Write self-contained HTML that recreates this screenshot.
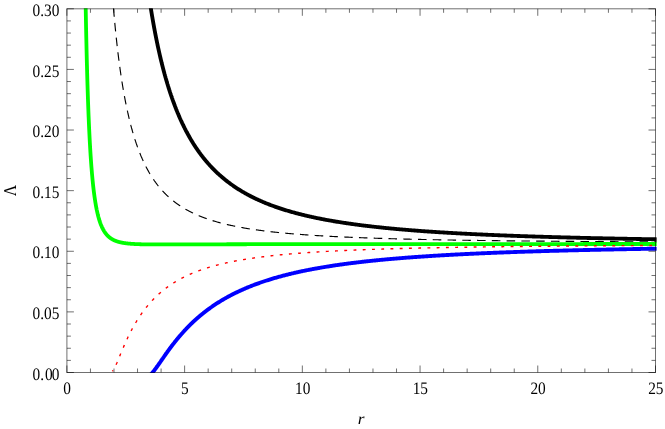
<!DOCTYPE html>
<html><head><meta charset="utf-8"><title>plot</title>
<style>
html,body{margin:0;padding:0;background:#fff;}
body{width:665px;height:429px;overflow:hidden;}
svg{display:block;will-change:transform;}
text{font-family:"Liberation Serif",serif;fill:#000;text-rendering:geometricPrecision;}
</style></head><body>
<svg width="665" height="429" viewBox="0 0 665 429">
<defs><clipPath id="clip"><rect x="66.90" y="8.30" width="589.80" height="364.70"/></clipPath></defs>
<g clip-path="url(#clip)" fill="none" stroke-linejoin="round">
<path d="M141.79 -62.87 L141.90 -61.77 L142.01 -60.68 L142.13 -59.59 L142.24 -58.51 L142.35 -57.43 L142.46 -56.36 L142.57 -55.30 L142.69 -54.25 L142.80 -53.20 L142.91 -52.15 L143.02 -51.12 L143.13 -50.09 L143.25 -49.07 L143.36 -48.05 L143.47 -47.04 L143.58 -46.03 L143.69 -45.03 L143.81 -44.04 L143.92 -43.05 L144.03 -42.07 L144.14 -41.10 L144.25 -40.13 L144.37 -39.16 L144.48 -38.20 L144.59 -37.25 L144.70 -36.30 L144.81 -35.36 L144.93 -34.43 L145.04 -33.49 L145.15 -32.57 L145.26 -31.65 L145.37 -30.73 L145.48 -29.82 L145.60 -28.92 L145.71 -28.02 L145.82 -27.13 L145.93 -26.24 L146.04 -25.35 L146.16 -24.47 L146.27 -23.60 L146.38 -22.73 L146.49 -21.86 L146.60 -21.00 L146.72 -20.15 L146.83 -19.30 L146.94 -18.45 L147.05 -17.61 L147.16 -16.78 L147.28 -15.94 L147.39 -15.12 L147.50 -14.29 L147.61 -13.48 L147.72 -12.66 L147.84 -11.85 L147.95 -11.05 L148.06 -10.25 L148.17 -9.45 L148.28 -8.66 L148.39 -7.87 L148.51 -7.09 L148.62 -6.31 L148.73 -5.53 L148.84 -4.76 L148.95 -3.99 L149.07 -3.23 L149.18 -2.47 L149.29 -1.71 L149.40 -0.96 L149.51 -0.21 L149.63 0.53 L149.74 1.27 L149.85 2.00 L149.96 2.74 L150.07 3.47 L150.19 4.19 L150.30 4.91 L150.41 5.63 L150.52 6.34 L150.63 7.05 L150.75 7.76 L150.86 8.46 L150.97 9.16 L151.08 9.86 L151.19 10.55 L151.30 11.24 L151.42 11.92 L151.53 12.61 L151.64 13.28 L151.75 13.96 L151.86 14.63 L151.98 15.30 L152.09 15.97 L152.20 16.63 L152.31 17.29 L152.42 17.94 L152.54 18.60 L152.65 19.25 L152.76 19.89 L152.87 20.53 L152.98 21.17 L153.10 21.81 L153.21 22.45 L153.32 23.08 L153.43 23.70 L153.54 24.33 L153.66 24.95 L153.77 25.57 L153.88 26.19 L153.99 26.80 L154.10 27.41 L154.22 28.02 L154.33 28.62 L154.44 29.22 L154.55 29.82 L154.66 30.42 L154.77 31.01 L154.89 31.60 L155.00 32.19 L155.11 32.77 L155.22 33.36 L155.33 33.94 L155.45 34.51 L155.56 35.09 L155.67 35.66 L155.78 36.23 L155.89 36.79 L156.01 37.36 L156.12 37.92 L156.23 38.48 L156.34 39.03 L156.45 39.59 L156.57 40.14 L156.68 40.69 L156.79 41.24 L156.90 41.78 L157.01 42.32 L157.13 42.86 L157.24 43.40 L157.35 43.93 L157.46 44.46 L157.57 44.99 L157.68 45.52 L157.80 46.05 L157.91 46.57 L158.02 47.09 L158.13 47.61 L158.24 48.12 L158.36 48.64 L158.47 49.15 L158.58 49.66 L158.69 50.17 L158.80 50.67 L158.92 51.17 L159.03 51.67 L159.14 52.17 L159.25 52.67 L159.36 53.16 L159.48 53.65 L159.59 54.15 L159.70 54.63 L159.81 55.12 L159.92 55.60 L160.04 56.08 L160.15 56.56 L160.26 57.04 L160.37 57.52 L160.48 57.99 L160.59 58.46 L160.71 58.93 L160.82 59.40 L160.93 59.87 L161.04 60.33 L161.15 60.79 L161.27 61.25 L161.38 61.71 L161.49 62.17 L161.60 62.62 L161.71 63.08 L161.83 63.53 L161.94 63.98 L162.05 64.42 L162.16 64.87 L162.27 65.31 L162.39 65.75 L162.50 66.19 L162.61 66.63 L162.72 67.07 L162.83 67.50 L162.95 67.94 L163.06 68.37 L163.17 68.80 L163.28 69.23 L163.39 69.65 L163.51 70.08 L163.62 70.50 L163.73 70.92 L163.84 71.34 L163.95 71.76 L164.06 72.17 L164.18 72.59 L164.29 73.00 L164.40 73.41 L164.51 73.82 L164.62 74.23 L164.74 74.64 L164.85 75.04 L164.96 75.45 L165.07 75.85 L165.18 76.25 L165.30 76.65 L165.41 77.04 L165.52 77.44 L165.63 77.83 L165.74 78.23 L165.86 78.62 L165.97 79.01 L166.08 79.40 L166.19 79.78 L166.30 80.17 L166.42 80.55 L166.53 80.93 L166.64 81.31 L166.75 81.69 L166.86 82.07 L166.97 82.45 L167.09 82.82 L167.20 83.20 L167.31 83.57 L167.42 83.94 L167.53 84.31 L167.65 84.68 L167.76 85.05 L167.87 85.41 L167.98 85.78 L168.09 86.14 L168.21 86.50 L168.32 86.86 L168.43 87.22 L168.54 87.58 L168.65 87.93 L168.77 88.29 L168.88 88.64 L168.99 88.99 L169.10 89.34 L169.21 89.69 L169.33 90.04 L169.44 90.39 L169.55 90.74 L169.66 91.08 L169.77 91.42 L169.88 91.77 L170.00 92.11 L170.11 92.45 L170.22 92.79 L170.33 93.12 L170.44 93.46 L170.56 93.79 L170.67 94.13 L170.78 94.46 L170.89 94.79 L171.00 95.12 L171.12 95.45 L171.23 95.78 L171.34 96.11 L171.45 96.43 L171.56 96.76 L171.68 97.08 L171.79 97.40 L171.90 97.72 L172.01 98.04 L172.12 98.36 L172.24 98.68 L172.35 99.00 L172.46 99.31 L172.57 99.63 L172.68 99.94 L172.79 100.25 L172.91 100.56 L173.02 100.87 L173.13 101.18 L173.24 101.49 L173.35 101.80 L173.47 102.10 L173.58 102.41 L173.69 102.71 L173.80 103.02 L173.91 103.32 L174.03 103.62 L174.14 103.92 L174.25 104.22 L174.36 104.51 L174.47 104.81 L174.59 105.11 L174.70 105.40 L174.81 105.70 L174.92 105.99 L175.03 106.28 L175.15 106.57 L175.26 106.86 L175.37 107.15 L175.48 107.44 L175.59 107.72 L175.71 108.01 L175.82 108.30 L175.93 108.58 L176.04 108.86 L176.15 109.15 L176.26 109.43 L176.38 109.71 L176.49 109.99 L176.60 110.26 L176.71 110.54 L176.82 110.82 L176.94 111.10 L177.05 111.37 L177.16 111.64 L177.27 111.92 L177.38 112.19 L177.50 112.46 L177.61 112.73 L177.72 113.00 L177.83 113.27 L177.94 113.54 L178.06 113.80 L178.17 114.07 L178.28 114.34 L178.39 114.60 L178.50 114.86 L178.62 115.13 L178.73 115.39 L178.84 115.65 L178.95 115.91 L179.06 116.17 L179.17 116.43 L179.29 116.69 L179.40 116.94 L179.51 117.20 L179.62 117.45 L179.73 117.71 L179.85 117.96 L179.96 118.22 L180.07 118.47 L180.18 118.72 L180.29 118.97 L180.41 119.22 L180.52 119.47 L180.63 119.72 L180.74 119.96 L180.85 120.21 L180.97 120.46 L181.08 120.70 L181.19 120.95 L181.30 121.19 L181.41 121.43 L181.53 121.67 L181.64 121.92 L181.75 122.16 L181.86 122.40 L181.97 122.63 L182.08 122.87 L182.20 123.11 L182.31 123.35 L182.42 123.58 L182.53 123.82 L182.64 124.05 L182.76 124.29 L182.87 124.52 L182.98 124.75 L183.09 124.99 L183.20 125.22 L183.32 125.45 L183.43 125.68 L183.54 125.91 L183.65 126.14 L183.76 126.36 L183.88 126.59 L183.99 126.82 L184.10 127.04 L184.21 127.27 L184.32 127.49 L184.44 127.72 L184.55 127.94 L184.66 128.16 L184.77 128.38 L184.88 128.60 L185.00 128.82 L185.11 129.04 L185.22 129.26 L185.33 129.48 L185.44 129.70 L185.55 129.92 L185.67 130.13 L185.78 130.35 L185.89 130.56 L186.00 130.78 L186.11 130.99 L186.23 131.20 L186.34 131.42 L186.45 131.63 L186.56 131.84 L186.67 132.05 L186.79 132.26 L186.90 132.47 L187.01 132.68 L187.12 132.89 L187.23 133.10 L187.35 133.30 L187.46 133.51 L187.57 133.72 L187.68 133.92 L187.79 134.13 L187.91 134.33 L188.02 134.53 L188.13 134.74 L188.24 134.94 L188.35 135.14 L188.46 135.34 L188.58 135.54 L188.69 135.74 L188.80 135.94 L188.91 136.14 L189.02 136.34 L189.14 136.54 L189.25 136.74 L189.36 136.93 L189.47 137.13 L189.58 137.32 L189.70 137.52 L189.81 137.71 L189.92 137.91 L190.03 138.10 L190.14 138.29 L190.26 138.49 L190.37 138.68 L190.48 138.87 L190.59 139.06 L190.70 139.25 L190.82 139.44 L190.93 139.63 L191.04 139.82 L191.15 140.01 L191.26 140.19 L191.37 140.38 L191.49 140.57 L191.60 140.75 L191.71 140.94 L191.82 141.12 L191.93 141.31 L192.05 141.49 L192.16 141.67 L192.27 141.86 L192.38 142.04 L192.49 142.22 L192.61 142.40 L192.72 142.58 L192.83 142.76 L192.94 142.94 L193.05 143.12 L193.17 143.30 L193.28 143.48 L193.39 143.66 L193.50 143.84 L193.61 144.01 L193.73 144.19 L193.84 144.37 L193.95 144.54 L194.06 144.72 L194.17 144.89 L194.29 145.07 L194.40 145.24 L194.51 145.41 L194.62 145.59 L194.73 145.76 L194.84 145.93 L194.96 146.10 L195.07 146.27 L195.18 146.44 L195.29 146.61 L195.40 146.78 L195.52 146.95 L195.63 147.12 L195.74 147.29 L195.85 147.45 L195.96 147.62 L196.08 147.79 L196.19 147.95 L196.30 148.12 L196.41 148.29 L196.52 148.45 L196.64 148.62 L196.75 148.78 L196.86 148.94 L196.97 149.11 L197.08 149.27 L197.20 149.43 L197.31 149.59 L197.42 149.76 L197.53 149.92 L197.64 150.08 L197.75 150.24 L197.87 150.40 L197.98 150.56 L198.09 150.72 L198.20 150.88 L198.31 151.03 L198.43 151.19 L198.54 151.35 L198.65 151.51 L198.76 151.66 L198.87 151.82 L198.99 151.97 L199.10 152.13 L199.21 152.28 L199.32 152.44 L199.43 152.59 L199.55 152.75 L199.66 152.90 L199.77 153.05 L199.88 153.21 L199.99 153.36 L200.11 153.51 L200.22 153.66 L200.33 153.81 L200.44 153.96 L200.55 154.11 L200.66 154.26 L200.78 154.41 L200.89 154.56 L201.00 154.71 L201.11 154.86 L201.22 155.01 L201.34 155.15 L201.45 155.30 L201.56 155.45 L201.67 155.60 L201.78 155.74 L201.90 155.89 L202.01 156.03 L202.12 156.18 L202.23 156.32 L202.34 156.47 L202.46 156.61 L202.57 156.75 L202.68 156.90 L202.79 157.04 L202.90 157.18 L203.02 157.32 L203.13 157.47 L203.24 157.61 L203.35 157.75 L203.46 157.89 L203.57 158.03 L203.69 158.17 L203.80 158.31 L203.91 158.45 L204.02 158.59 L204.13 158.73 L204.25 158.86 L204.36 159.00 L204.47 159.14 L204.58 159.28 L204.69 159.41 L204.81 159.55 L204.92 159.69 L205.03 159.82 L205.14 159.96 L205.25 160.09 L205.37 160.23 L205.48 160.36 L205.59 160.50 L205.70 160.63 L205.81 160.76 L205.93 160.90 L206.04 161.03 L206.15 161.16 L206.26 161.30 L206.37 161.43 L206.49 161.56 L206.60 161.69 L206.71 161.82 L206.82 161.95 L206.93 162.08 L207.04 162.21 L207.16 162.34 L207.27 162.47 L207.38 162.60 L207.49 162.73 L207.60 162.86 L207.72 162.99 L207.83 163.11 L207.94 163.24 L208.05 163.37 L208.16 163.50 L208.91 164.34 L209.66 165.17 L210.41 165.98 L211.16 166.79 L211.91 167.58 L212.66 168.35 L213.41 169.12 L214.16 169.87 L214.91 170.62 L215.66 171.35 L216.40 172.07 L217.15 172.78 L217.90 173.48 L218.65 174.17 L219.40 174.85 L220.15 175.52 L220.90 176.17 L221.65 176.82 L222.40 177.46 L223.15 178.09 L223.90 178.72 L224.65 179.33 L225.39 179.93 L226.14 180.53 L226.89 181.12 L227.64 181.70 L228.39 182.27 L229.14 182.83 L229.89 183.39 L230.64 183.94 L231.39 184.48 L232.14 185.01 L232.89 185.54 L233.64 186.06 L234.38 186.57 L235.13 187.07 L235.88 187.57 L236.63 188.06 L237.38 188.55 L238.13 189.03 L238.88 189.50 L239.63 189.97 L240.38 190.43 L241.13 190.89 L241.88 191.33 L242.63 191.78 L243.37 192.22 L244.12 192.65 L244.87 193.08 L245.62 193.50 L246.37 193.91 L247.12 194.33 L247.87 194.73 L248.62 195.13 L249.37 195.53 L250.12 195.92 L250.87 196.31 L251.62 196.69 L252.36 197.07 L253.11 197.44 L253.86 197.81 L254.61 198.17 L255.36 198.53 L256.11 198.89 L256.86 199.24 L257.61 199.59 L258.36 199.93 L259.11 200.27 L259.86 200.61 L260.61 200.94 L261.35 201.27 L262.10 201.59 L262.85 201.91 L263.60 202.23 L264.35 202.54 L265.10 202.85 L265.85 203.16 L266.60 203.46 L267.35 203.76 L268.10 204.06 L268.85 204.35 L269.60 204.64 L270.34 204.93 L271.09 205.21 L271.84 205.49 L272.59 205.77 L273.34 206.04 L274.09 206.31 L274.84 206.58 L275.59 206.85 L276.34 207.11 L277.09 207.37 L277.84 207.63 L278.59 207.88 L279.33 208.13 L280.08 208.38 L280.83 208.63 L281.58 208.87 L282.33 209.12 L283.08 209.36 L283.83 209.59 L284.58 209.83 L285.33 210.06 L286.08 210.29 L286.83 210.51 L287.58 210.74 L288.32 210.96 L289.07 211.18 L289.82 211.40 L290.57 211.62 L291.32 211.83 L292.07 212.04 L292.82 212.25 L293.57 212.46 L294.32 212.67 L295.07 212.87 L295.82 213.07 L296.57 213.27 L297.31 213.47 L298.06 213.66 L298.81 213.86 L299.56 214.05 L300.31 214.24 L301.06 214.43 L301.81 214.62 L302.56 214.80 L303.31 214.98 L304.06 215.17 L304.81 215.35 L305.56 215.52 L306.30 215.70 L307.05 215.88 L307.80 216.05 L308.55 216.22 L309.30 216.39 L310.05 216.56 L310.80 216.73 L311.55 216.89 L312.30 217.06 L313.05 217.22 L313.80 217.38 L314.55 217.54 L315.29 217.70 L316.04 217.85 L316.79 218.01 L317.54 218.16 L318.29 218.31 L319.04 218.47 L319.79 218.62 L320.54 218.76 L321.29 218.91 L322.04 219.06 L322.79 219.20 L323.54 219.35 L324.28 219.49 L325.03 219.63 L325.78 219.77 L326.53 219.91 L327.28 220.04 L328.03 220.18 L328.78 220.32 L329.53 220.45 L330.28 220.58 L331.03 220.71 L331.78 220.85 L332.53 220.97 L333.27 221.10 L334.02 221.23 L334.77 221.36 L335.52 221.48 L336.27 221.61 L337.02 221.73 L337.77 221.85 L338.52 221.97 L339.27 222.09 L340.02 222.21 L340.77 222.33 L341.52 222.45 L342.26 222.56 L343.01 222.68 L343.76 222.79 L344.51 222.91 L345.26 223.02 L346.01 223.13 L346.76 223.24 L347.51 223.35 L348.26 223.46 L349.01 223.57 L349.76 223.68 L350.50 223.78 L351.25 223.89 L352.00 223.99 L352.75 224.10 L353.50 224.20 L354.25 224.30 L355.00 224.41 L355.75 224.51 L356.50 224.61 L357.25 224.71 L358.00 224.80 L358.75 224.90 L359.49 225.00 L360.24 225.09 L360.99 225.19 L361.74 225.29 L362.49 225.38 L363.24 225.47 L363.99 225.57 L364.74 225.66 L365.49 225.75 L366.24 225.84 L366.99 225.93 L367.74 226.02 L368.48 226.11 L369.23 226.20 L369.98 226.28 L370.73 226.37 L371.48 226.46 L372.23 226.54 L372.98 226.63 L373.73 226.71 L374.48 226.79 L375.23 226.88 L375.98 226.96 L376.73 227.04 L377.47 227.12 L378.22 227.20 L378.97 227.28 L379.72 227.36 L380.47 227.44 L381.22 227.52 L381.97 227.60 L382.72 227.68 L383.47 227.75 L384.22 227.83 L384.97 227.90 L385.72 227.98 L386.46 228.05 L387.21 228.13 L387.96 228.20 L388.71 228.27 L389.46 228.35 L390.21 228.42 L390.96 228.49 L391.71 228.56 L392.46 228.63 L393.21 228.70 L393.96 228.77 L394.71 228.84 L395.45 228.91 L396.20 228.98 L396.95 229.05 L397.70 229.11 L398.45 229.18 L399.20 229.25 L399.95 229.31 L400.70 229.38 L401.45 229.44 L402.20 229.51 L402.95 229.57 L403.70 229.64 L404.44 229.70 L405.19 229.76 L405.94 229.82 L406.69 229.89 L407.44 229.95 L408.19 230.01 L408.94 230.07 L409.69 230.13 L410.44 230.19 L411.19 230.25 L411.94 230.31 L412.69 230.37 L413.43 230.43 L414.18 230.49 L414.93 230.54 L415.68 230.60 L416.43 230.66 L417.18 230.71 L417.93 230.77 L418.68 230.83 L419.43 230.88 L420.18 230.94 L420.93 230.99 L421.68 231.05 L422.42 231.10 L423.17 231.16 L423.92 231.21 L424.67 231.26 L425.42 231.32 L426.17 231.37 L426.92 231.42 L427.67 231.47 L428.42 231.52 L429.17 231.58 L429.92 231.63 L430.67 231.68 L431.41 231.73 L432.16 231.78 L432.91 231.83 L433.66 231.88 L434.41 231.93 L435.16 231.97 L435.91 232.02 L436.66 232.07 L437.41 232.12 L438.16 232.17 L438.91 232.21 L439.66 232.26 L440.40 232.31 L441.15 232.35 L441.90 232.40 L442.65 232.45 L443.40 232.49 L444.15 232.54 L444.90 232.58 L445.65 232.63 L446.40 232.67 L447.15 232.72 L447.90 232.76 L448.65 232.81 L449.39 232.85 L450.14 232.89 L450.89 232.94 L451.64 232.98 L452.39 233.02 L453.14 233.06 L453.89 233.11 L454.64 233.15 L455.39 233.19 L456.14 233.23 L456.89 233.27 L457.64 233.31 L458.38 233.35 L459.13 233.39 L459.88 233.43 L460.63 233.47 L461.38 233.51 L462.13 233.55 L462.88 233.59 L463.63 233.63 L464.38 233.67 L465.13 233.71 L465.88 233.75 L466.63 233.79 L467.37 233.82 L468.12 233.86 L468.87 233.90 L469.62 233.94 L470.37 233.97 L471.12 234.01 L471.87 234.05 L472.62 234.08 L473.37 234.12 L474.12 234.16 L474.87 234.19 L475.62 234.23 L476.36 234.26 L477.11 234.30 L477.86 234.33 L478.61 234.37 L479.36 234.40 L480.11 234.44 L480.86 234.47 L481.61 234.51 L482.36 234.54 L483.11 234.58 L483.86 234.61 L484.61 234.64 L485.35 234.68 L486.10 234.71 L486.85 234.74 L487.60 234.77 L488.35 234.81 L489.10 234.84 L489.85 234.87 L490.60 234.90 L491.35 234.94 L492.10 234.97 L492.85 235.00 L493.60 235.03 L494.34 235.06 L495.09 235.09 L495.84 235.12 L496.59 235.16 L497.34 235.19 L498.09 235.22 L498.84 235.25 L499.59 235.28 L500.34 235.31 L501.09 235.34 L501.84 235.37 L502.59 235.40 L503.33 235.43 L504.08 235.45 L504.83 235.48 L505.58 235.51 L506.33 235.54 L507.08 235.57 L507.83 235.60 L508.58 235.63 L509.33 235.66 L510.08 235.68 L510.83 235.71 L511.58 235.74 L512.32 235.77 L513.07 235.79 L513.82 235.82 L514.57 235.85 L515.32 235.88 L516.07 235.90 L516.82 235.93 L517.57 235.96 L518.32 235.98 L519.07 236.01 L519.82 236.04 L520.56 236.06 L521.31 236.09 L522.06 236.11 L522.81 236.14 L523.56 236.17 L524.31 236.19 L525.06 236.22 L525.81 236.24 L526.56 236.27 L527.31 236.29 L528.06 236.32 L528.81 236.34 L529.55 236.37 L530.30 236.39 L531.05 236.42 L531.80 236.44 L532.55 236.46 L533.30 236.49 L534.05 236.51 L534.80 236.54 L535.55 236.56 L536.30 236.58 L537.05 236.61 L537.80 236.63 L538.54 236.65 L539.29 236.68 L540.04 236.70 L540.79 236.72 L541.54 236.75 L542.29 236.77 L543.04 236.79 L543.79 236.81 L544.54 236.84 L545.29 236.86 L546.04 236.88 L546.79 236.90 L547.53 236.92 L548.28 236.95 L549.03 236.97 L549.78 236.99 L550.53 237.01 L551.28 237.03 L552.03 237.05 L552.78 237.08 L553.53 237.10 L554.28 237.12 L555.03 237.14 L555.78 237.16 L556.52 237.18 L557.27 237.20 L558.02 237.22 L558.77 237.24 L559.52 237.26 L560.27 237.28 L561.02 237.30 L561.77 237.32 L562.52 237.34 L563.27 237.36 L564.02 237.38 L564.77 237.40 L565.51 237.42 L566.26 237.44 L567.01 237.46 L567.76 237.48 L568.51 237.50 L569.26 237.52 L570.01 237.54 L570.76 237.56 L571.51 237.58 L572.26 237.60 L573.01 237.62 L573.76 237.64 L574.50 237.65 L575.25 237.67 L576.00 237.69 L576.75 237.71 L577.50 237.73 L578.25 237.75 L579.00 237.76 L579.75 237.78 L580.50 237.80 L581.25 237.82 L582.00 237.84 L582.75 237.85 L583.49 237.87 L584.24 237.89 L584.99 237.91 L585.74 237.93 L586.49 237.94 L587.24 237.96 L587.99 237.98 L588.74 237.99 L589.49 238.01 L590.24 238.03 L590.99 238.05 L591.74 238.06 L592.48 238.08 L593.23 238.10 L593.98 238.11 L594.73 238.13 L595.48 238.15 L596.23 238.16 L596.98 238.18 L597.73 238.20 L598.48 238.21 L599.23 238.23 L599.98 238.24 L600.73 238.26 L601.47 238.28 L602.22 238.29 L602.97 238.31 L603.72 238.32 L604.47 238.34 L605.22 238.36 L605.97 238.37 L606.72 238.39 L607.47 238.40 L608.22 238.42 L608.97 238.43 L609.72 238.45 L610.46 238.46 L611.21 238.48 L611.96 238.49 L612.71 238.51 L613.46 238.52 L614.21 238.54 L614.96 238.55 L615.71 238.57 L616.46 238.58 L617.21 238.60 L617.96 238.61 L618.71 238.63 L619.45 238.64 L620.20 238.66 L620.95 238.67 L621.70 238.68 L622.45 238.70 L623.20 238.71 L623.95 238.73 L624.70 238.74 L625.45 238.76 L626.20 238.77 L626.95 238.78 L627.70 238.80 L628.44 238.81 L629.19 238.83 L629.94 238.84 L630.69 238.85 L631.44 238.87 L632.19 238.88 L632.94 238.89 L633.69 238.91 L634.44 238.92 L635.19 238.93 L635.94 238.95 L636.69 238.96 L637.43 238.97 L638.18 238.99 L638.93 239.00 L639.68 239.01 L640.43 239.03 L641.18 239.04 L641.93 239.05 L642.68 239.06 L643.43 239.08 L644.18 239.09 L644.93 239.10 L645.68 239.11 L646.42 239.13 L647.17 239.14 L647.92 239.15 L648.67 239.16 L649.42 239.18 L650.17 239.19 L650.92 239.20 L651.67 239.21 L652.42 239.23 L653.17 239.24 L653.92 239.25 L654.67 239.26 L655.41 239.27 L656.16 239.29 L656.91 239.30" stroke="#000000" stroke-width="3.85"/>
<path d="M108.66 -63.31 L108.77 -61.23 L108.88 -59.17 L109.00 -57.14 L109.11 -55.13 L109.22 -53.15 L109.33 -51.18 L109.44 -49.24 L109.56 -47.32 L109.67 -45.43 L109.78 -43.55 L109.89 -41.70 L110.00 -39.86 L110.12 -38.05 L110.23 -36.26 L110.34 -34.48 L110.45 -32.73 L110.56 -30.99 L110.68 -29.28 L110.79 -27.58 L110.90 -25.90 L111.01 -24.24 L111.12 -22.59 L111.23 -20.97 L111.35 -19.36 L111.46 -17.76 L111.57 -16.19 L111.68 -14.63 L111.79 -13.08 L111.91 -11.56 L112.02 -10.04 L112.13 -8.55 L112.24 -7.06 L112.35 -5.60 L112.47 -4.14 L112.58 -2.71 L112.69 -1.28 L112.80 0.13 L112.91 1.52 L113.03 2.90 L113.14 4.27 L113.25 5.63 L113.36 6.97 L113.47 8.30 L113.59 9.62 L113.70 10.92 L113.81 12.21 L113.92 13.49 L114.03 14.76 L114.15 16.02 L114.26 17.26 L114.37 18.49 L114.48 19.71 L114.59 20.92 L114.70 22.12 L114.82 23.31 L114.93 24.49 L115.04 25.65 L115.15 26.81 L115.26 27.95 L115.38 29.09 L115.49 30.21 L115.60 31.33 L115.71 32.44 L115.82 33.53 L115.94 34.62 L116.05 35.69 L116.16 36.76 L116.27 37.82 L116.38 38.87 L116.50 39.91 L116.61 40.94 L116.72 41.96 L116.83 42.98 L116.94 43.98 L117.06 44.98 L117.17 45.97 L117.28 46.95 L117.39 47.92 L117.50 48.88 L117.61 49.84 L117.73 50.79 L117.84 51.73 L117.95 52.66 L118.06 53.59 L118.17 54.50 L118.29 55.41 L118.40 56.32 L118.51 57.21 L118.62 58.10 L118.73 58.98 L118.85 59.86 L118.96 60.73 L119.07 61.59 L119.18 62.44 L119.29 63.29 L119.41 64.13 L119.52 64.97 L119.63 65.79 L119.74 66.62 L119.85 67.43 L119.97 68.24 L120.08 69.04 L120.19 69.84 L120.30 70.63 L120.41 71.42 L120.52 72.20 L120.64 72.97 L120.75 73.74 L120.86 74.50 L120.97 75.26 L121.08 76.01 L121.20 76.75 L121.31 77.49 L121.42 78.23 L121.53 78.96 L121.64 79.68 L121.76 80.40 L121.87 81.11 L121.98 81.82 L122.09 82.53 L122.20 83.22 L122.32 83.92 L122.43 84.61 L122.54 85.29 L122.65 85.97 L122.76 86.64 L122.88 87.31 L122.99 87.98 L123.10 88.64 L123.21 89.29 L123.32 89.95 L123.44 90.59 L123.55 91.23 L123.66 91.87 L123.77 92.51 L123.88 93.14 L123.99 93.76 L124.11 94.38 L124.22 95.00 L124.33 95.61 L124.44 96.22 L124.55 96.82 L124.67 97.42 L124.78 98.02 L124.89 98.61 L125.00 99.20 L125.11 99.79 L125.23 100.37 L125.34 100.94 L125.45 101.52 L125.56 102.09 L125.67 102.65 L125.79 103.22 L125.90 103.77 L126.01 104.33 L126.12 104.88 L126.23 105.43 L126.35 105.97 L126.46 106.52 L126.57 107.05 L126.68 107.59 L126.79 108.12 L126.90 108.65 L127.02 109.17 L127.13 109.69 L127.24 110.21 L127.35 110.72 L127.46 111.24 L127.58 111.74 L127.69 112.25 L127.80 112.75 L127.91 113.25 L128.02 113.75 L128.14 114.24 L128.25 114.73 L128.36 115.22 L128.47 115.70 L128.58 116.18 L128.70 116.66 L128.81 117.14 L128.92 117.61 L129.03 118.08 L129.14 118.55 L129.26 119.01 L129.37 119.47 L129.48 119.93 L129.59 120.39 L129.70 120.84 L129.81 121.29 L129.93 121.74 L130.04 122.18 L130.15 122.63 L130.26 123.07 L130.37 123.51 L130.49 123.94 L130.60 124.37 L130.71 124.80 L130.82 125.23 L130.93 125.66 L131.05 126.08 L131.16 126.50 L131.27 126.92 L131.38 127.34 L131.49 127.75 L131.61 128.16 L131.72 128.57 L131.83 128.98 L131.94 129.38 L132.05 129.78 L132.17 130.18 L132.28 130.58 L132.39 130.98 L132.50 131.37 L132.61 131.76 L132.73 132.15 L132.84 132.54 L132.95 132.92 L133.06 133.30 L133.17 133.68 L133.28 134.06 L133.40 134.44 L133.51 134.81 L133.62 135.19 L133.73 135.56 L133.84 135.93 L133.96 136.29 L134.07 136.66 L134.18 137.02 L134.29 137.38 L134.40 137.74 L134.52 138.10 L134.63 138.45 L134.74 138.80 L134.85 139.15 L134.96 139.50 L135.08 139.85 L135.19 140.20 L135.30 140.54 L135.41 140.88 L135.52 141.22 L135.64 141.56 L135.75 141.90 L135.86 142.23 L135.97 142.57 L136.08 142.90 L136.19 143.23 L136.31 143.56 L136.42 143.88 L136.53 144.21 L136.64 144.53 L136.75 144.85 L136.87 145.17 L136.98 145.49 L137.09 145.81 L137.20 146.12 L137.31 146.44 L137.43 146.75 L137.54 147.06 L137.65 147.37 L137.76 147.68 L137.87 147.98 L137.99 148.29 L138.10 148.59 L138.21 148.89 L138.32 149.19 L138.43 149.49 L138.55 149.79 L138.66 150.08 L138.77 150.38 L138.88 150.67 L138.99 150.96 L139.10 151.25 L139.22 151.54 L139.33 151.83 L139.44 152.11 L139.55 152.39 L139.66 152.68 L139.78 152.96 L139.89 153.24 L140.00 153.52 L140.11 153.80 L140.22 154.07 L140.34 154.35 L140.45 154.62 L140.56 154.89 L140.67 155.16 L140.78 155.43 L140.90 155.70 L141.01 155.97 L141.12 156.23 L141.23 156.50 L141.34 156.76 L141.46 157.02 L141.57 157.28 L141.68 157.54 L141.79 157.80 L141.90 158.06 L142.01 158.32 L142.13 158.57 L142.24 158.82 L142.35 159.08 L142.46 159.33 L142.57 159.58 L142.69 159.83 L142.80 160.08 L142.91 160.32 L143.02 160.57 L143.13 160.81 L143.25 161.06 L143.36 161.30 L143.47 161.54 L143.58 161.78 L143.69 162.02 L143.81 162.26 L143.92 162.49 L144.03 162.73 L144.14 162.97 L144.25 163.20 L144.37 163.43 L144.48 163.66 L144.59 163.89 L144.70 164.12 L144.81 164.35 L144.93 164.58 L145.04 164.81 L145.15 165.03 L145.26 165.26 L145.37 165.48 L145.48 165.70 L145.60 165.92 L145.71 166.15 L145.82 166.36 L145.93 166.58 L146.04 166.80 L146.16 167.02 L146.27 167.23 L146.38 167.45 L146.49 167.66 L146.60 167.88 L146.72 168.09 L146.83 168.30 L146.94 168.51 L147.05 168.72 L147.16 168.93 L147.28 169.14 L147.39 169.34 L147.50 169.55 L147.61 169.75 L147.72 169.96 L147.84 170.16 L147.95 170.36 L148.06 170.57 L148.17 170.77 L148.28 170.97 L148.39 171.17 L148.51 171.36 L148.62 171.56 L148.73 171.76 L148.84 171.95 L148.95 172.15 L149.07 172.34 L149.18 172.54 L149.29 172.73 L149.40 172.92 L149.51 173.11 L149.63 173.30 L149.74 173.49 L149.85 173.68 L149.96 173.87 L150.07 174.05 L150.19 174.24 L150.30 174.43 L150.41 174.61 L150.52 174.79 L150.63 174.98 L150.75 175.16 L150.86 175.34 L150.97 175.52 L151.08 175.70 L151.19 175.88 L151.30 176.06 L151.42 176.24 L151.53 176.42 L151.64 176.59 L151.75 176.77 L151.86 176.94 L151.98 177.12 L152.09 177.29 L152.20 177.47 L152.31 177.64 L152.42 177.81 L152.54 177.98 L152.65 178.15 L152.76 178.32 L152.87 178.49 L152.98 178.66 L153.10 178.83 L153.21 178.99 L153.32 179.16 L153.43 179.33 L153.54 179.49 L153.66 179.66 L153.77 179.82 L153.88 179.98 L153.99 180.14 L154.10 180.31 L154.22 180.47 L154.33 180.63 L154.44 180.79 L154.55 180.95 L154.66 181.11 L154.77 181.26 L154.89 181.42 L155.00 181.58 L155.11 181.74 L155.22 181.89 L155.33 182.05 L155.45 182.20 L155.56 182.36 L155.67 182.51 L155.78 182.66 L155.89 182.81 L156.01 182.97 L156.12 183.12 L156.23 183.27 L156.34 183.42 L156.45 183.57 L156.57 183.71 L156.68 183.86 L156.79 184.01 L156.90 184.16 L157.01 184.30 L157.13 184.45 L157.24 184.60 L157.35 184.74 L157.46 184.88 L157.57 185.03 L157.68 185.17 L157.80 185.31 L157.91 185.46 L158.02 185.60 L158.13 185.74 L158.24 185.88 L158.36 186.02 L158.47 186.16 L158.58 186.30 L158.69 186.44 L158.80 186.58 L158.92 186.71 L159.03 186.85 L159.14 186.99 L159.25 187.12 L159.36 187.26 L159.48 187.39 L159.59 187.53 L159.70 187.66 L159.81 187.80 L159.92 187.93 L160.04 188.06 L160.15 188.19 L160.26 188.33 L160.37 188.46 L160.48 188.59 L160.59 188.72 L160.71 188.85 L160.82 188.98 L160.93 189.11 L161.04 189.23 L161.15 189.36 L161.27 189.49 L161.38 189.62 L161.49 189.74 L161.60 189.87 L161.71 189.99 L161.83 190.12 L161.94 190.24 L162.05 190.37 L162.16 190.49 L162.27 190.62 L162.39 190.74 L162.50 190.86 L162.61 190.98 L162.72 191.11 L162.83 191.23 L162.95 191.35 L163.06 191.47 L163.17 191.59 L163.28 191.71 L163.39 191.83 L163.51 191.95 L163.62 192.06 L163.73 192.18 L163.84 192.30 L163.95 192.42 L164.06 192.53 L164.18 192.65 L164.29 192.77 L164.40 192.88 L164.51 193.00 L164.62 193.11 L164.74 193.22 L164.85 193.34 L164.96 193.45 L165.07 193.57 L165.18 193.68 L165.30 193.79 L165.41 193.90 L165.52 194.01 L165.63 194.13 L165.74 194.24 L165.86 194.35 L165.97 194.46 L166.08 194.57 L166.19 194.68 L166.30 194.78 L166.42 194.89 L166.53 195.00 L166.64 195.11 L166.75 195.22 L166.86 195.32 L166.97 195.43 L167.09 195.54 L167.20 195.64 L167.31 195.75 L167.42 195.85 L167.53 195.96 L167.65 196.06 L167.76 196.17 L167.87 196.27 L167.98 196.38 L168.09 196.48 L168.21 196.58 L168.32 196.68 L168.43 196.79 L168.54 196.89 L168.65 196.99 L168.77 197.09 L168.88 197.19 L168.99 197.29 L169.10 197.39 L169.21 197.49 L169.33 197.59 L169.44 197.69 L169.55 197.79 L169.66 197.89 L169.77 197.99 L169.88 198.09 L170.00 198.18 L170.11 198.28 L170.22 198.38 L170.33 198.47 L170.44 198.57 L170.56 198.67 L170.67 198.76 L170.78 198.86 L170.89 198.95 L171.00 199.05 L171.12 199.14 L171.23 199.24 L171.34 199.33 L171.45 199.42 L171.56 199.52 L171.68 199.61 L171.79 199.70 L171.90 199.80 L172.01 199.89 L172.12 199.98 L172.24 200.07 L172.35 200.16 L172.46 200.25 L172.57 200.34 L172.68 200.43 L172.79 200.52 L172.91 200.61 L173.02 200.70 L173.13 200.79 L173.24 200.88 L173.35 200.97 L173.47 201.06 L173.58 201.15 L173.69 201.24 L173.80 201.32 L173.91 201.41 L174.03 201.50 L174.14 201.58 L174.25 201.67 L174.36 201.76 L174.47 201.84 L174.59 201.93 L174.70 202.01 L174.81 202.10 L174.92 202.18 L175.03 202.27 L175.15 202.35 L175.26 202.44 L175.37 202.52 L175.48 202.60 L175.59 202.69 L175.71 202.77 L175.82 202.85 L175.93 202.94 L176.04 203.02 L176.15 203.10 L176.26 203.18 L176.38 203.26 L176.49 203.35 L176.60 203.43 L176.71 203.51 L176.82 203.59 L176.94 203.67 L177.05 203.75 L177.16 203.83 L177.27 203.91 L177.38 203.99 L177.50 204.07 L177.61 204.14 L177.72 204.22 L177.83 204.30 L177.94 204.38 L178.06 204.46 L178.17 204.54 L178.28 204.61 L178.39 204.69 L178.50 204.77 L178.62 204.84 L178.73 204.92 L178.84 205.00 L178.95 205.07 L179.06 205.15 L179.17 205.22 L179.29 205.30 L179.40 205.37 L179.51 205.45 L179.62 205.52 L179.73 205.60 L179.85 205.67 L179.96 205.75 L180.07 205.82 L180.18 205.89 L180.29 205.97 L180.41 206.04 L180.52 206.11 L180.63 206.19 L180.74 206.26 L180.85 206.33 L180.97 206.40 L181.08 206.48 L181.19 206.55 L181.30 206.62 L181.41 206.69 L181.53 206.76 L181.64 206.83 L181.75 206.90 L181.86 206.97 L181.97 207.04 L182.08 207.11 L182.20 207.18 L182.31 207.25 L182.42 207.32 L182.53 207.39 L182.64 207.46 L182.76 207.53 L182.87 207.60 L182.98 207.67 L183.09 207.74 L183.20 207.80 L183.32 207.87 L183.43 207.94 L183.54 208.01 L183.65 208.07 L183.76 208.14 L183.88 208.21 L183.99 208.27 L184.10 208.34 L184.21 208.41 L184.32 208.47 L184.44 208.54 L184.55 208.60 L184.66 208.67 L184.77 208.74 L184.88 208.80 L185.00 208.87 L185.11 208.93 L185.22 209.00 L185.33 209.06 L185.44 209.12 L185.55 209.19 L185.67 209.25 L185.78 209.32 L185.89 209.38 L186.00 209.44 L186.11 209.51 L186.23 209.57 L186.34 209.63 L186.45 209.69 L186.56 209.76 L186.67 209.82 L186.79 209.88 L186.90 209.94 L187.01 210.00 L187.12 210.07 L187.23 210.13 L187.35 210.19 L187.46 210.25 L187.57 210.31 L187.68 210.37 L187.79 210.43 L187.91 210.49 L188.02 210.55 L188.13 210.61 L188.24 210.67 L188.35 210.73 L188.46 210.79 L188.58 210.85 L188.69 210.91 L188.80 210.97 L188.91 211.03 L189.02 211.09 L189.14 211.15 L189.25 211.21 L189.36 211.26 L189.47 211.32 L189.58 211.38 L189.70 211.44 L189.81 211.50 L189.92 211.55 L190.03 211.61 L190.14 211.67 L190.26 211.72 L190.37 211.78 L190.48 211.84 L190.59 211.89 L190.70 211.95 L190.82 212.01 L190.93 212.06 L191.04 212.12 L191.15 212.18 L191.26 212.23 L191.37 212.29 L191.49 212.34 L191.60 212.40 L191.71 212.45 L191.82 212.51 L191.93 212.56 L192.05 212.62 L192.16 212.67 L192.27 212.73 L192.38 212.78 L192.49 212.83 L192.61 212.89 L192.72 212.94 L192.83 213.00 L192.94 213.05 L193.05 213.10 L193.17 213.16 L193.28 213.21 L193.39 213.26 L193.50 213.31 L193.61 213.37 L193.73 213.42 L193.84 213.47 L193.95 213.52 L194.06 213.58 L194.17 213.63 L194.29 213.68 L194.40 213.73 L194.51 213.78 L194.62 213.83 L194.73 213.89 L194.84 213.94 L194.96 213.99 L195.07 214.04 L195.18 214.09 L195.29 214.14 L195.40 214.19 L195.52 214.24 L195.63 214.29 L195.74 214.34 L195.85 214.39 L195.96 214.44 L196.08 214.49 L196.19 214.54 L196.30 214.59 L196.41 214.64 L196.52 214.69 L196.64 214.74 L196.75 214.79 L196.86 214.84 L196.97 214.88 L197.08 214.93 L197.20 214.98 L197.31 215.03 L197.42 215.08 L197.53 215.13 L197.64 215.17 L197.75 215.22 L197.87 215.27 L197.98 215.32 L198.09 215.36 L198.20 215.41 L198.31 215.46 L198.43 215.51 L198.54 215.55 L198.65 215.60 L198.76 215.65 L198.87 215.69 L198.99 215.74 L199.10 215.79 L199.21 215.83 L199.32 215.88 L199.43 215.92 L199.55 215.97 L199.66 216.02 L199.77 216.06 L199.88 216.11 L199.99 216.15 L200.11 216.20 L200.22 216.24 L200.33 216.29 L200.44 216.33 L200.55 216.38 L200.66 216.42 L200.78 216.47 L200.89 216.51 L201.00 216.56 L201.11 216.60 L201.22 216.65 L201.34 216.69 L201.45 216.73 L201.56 216.78 L201.67 216.82 L201.78 216.87 L201.90 216.91 L202.01 216.95 L202.12 217.00 L202.23 217.04 L202.34 217.08 L202.46 217.13 L202.57 217.17 L202.68 217.21 L202.79 217.25 L202.90 217.30 L203.02 217.34 L203.13 217.38 L203.24 217.42 L203.35 217.47 L203.46 217.51 L203.57 217.55 L203.69 217.59 L203.80 217.63 L203.91 217.68 L204.02 217.72 L204.13 217.76 L204.25 217.80 L204.36 217.84 L204.47 217.88 L204.58 217.92 L204.69 217.96 L204.81 218.01 L204.92 218.05 L205.03 218.09 L205.14 218.13 L205.25 218.17 L205.37 218.21 L205.48 218.25 L205.59 218.29 L205.70 218.33 L205.81 218.37 L205.93 218.41 L206.04 218.45 L206.15 218.49 L206.26 218.53 L206.37 218.57 L206.49 218.61 L206.60 218.65 L206.71 218.69 L206.82 218.72 L206.93 218.76 L207.04 218.80 L207.16 218.84 L207.27 218.88 L207.38 218.92 L207.49 218.96 L207.60 219.00 L207.72 219.03 L207.83 219.07 L207.94 219.11 L208.05 219.15 L208.16 219.19 L208.91 219.44 L209.66 219.69 L210.41 219.93 L211.16 220.17 L211.91 220.41 L212.66 220.64 L213.41 220.87 L214.16 221.10 L214.91 221.32 L215.66 221.54 L216.40 221.76 L217.15 221.97 L217.90 222.18 L218.65 222.39 L219.40 222.59 L220.15 222.80 L220.90 222.99 L221.65 223.19 L222.40 223.38 L223.15 223.57 L223.90 223.76 L224.65 223.94 L225.39 224.12 L226.14 224.30 L226.89 224.48 L227.64 224.65 L228.39 224.83 L229.14 225.00 L229.89 225.16 L230.64 225.33 L231.39 225.49 L232.14 225.65 L232.89 225.81 L233.64 225.96 L234.38 226.12 L235.13 226.27 L235.88 226.42 L236.63 226.57 L237.38 226.72 L238.13 226.86 L238.88 227.00 L239.63 227.14 L240.38 227.28 L241.13 227.42 L241.88 227.55 L242.63 227.69 L243.37 227.82 L244.12 227.95 L244.87 228.08 L245.62 228.20 L246.37 228.33 L247.12 228.45 L247.87 228.58 L248.62 228.70 L249.37 228.81 L250.12 228.93 L250.87 229.05 L251.62 229.16 L252.36 229.28 L253.11 229.39 L253.86 229.50 L254.61 229.61 L255.36 229.72 L256.11 229.83 L256.86 229.93 L257.61 230.04 L258.36 230.14 L259.11 230.24 L259.86 230.34 L260.61 230.44 L261.35 230.54 L262.10 230.64 L262.85 230.73 L263.60 230.83 L264.35 230.92 L265.10 231.02 L265.85 231.11 L266.60 231.20 L267.35 231.29 L268.10 231.38 L268.85 231.47 L269.60 231.55 L270.34 231.64 L271.09 231.72 L271.84 231.81 L272.59 231.89 L273.34 231.97 L274.09 232.06 L274.84 232.14 L275.59 232.22 L276.34 232.30 L277.09 232.37 L277.84 232.45 L278.59 232.53 L279.33 232.60 L280.08 232.68 L280.83 232.75 L281.58 232.82 L282.33 232.90 L283.08 232.97 L283.83 233.04 L284.58 233.11 L285.33 233.18 L286.08 233.25 L286.83 233.32 L287.58 233.38 L288.32 233.45 L289.07 233.52 L289.82 233.58 L290.57 233.65 L291.32 233.71 L292.07 233.78 L292.82 233.84 L293.57 233.90 L294.32 233.96 L295.07 234.02 L295.82 234.08 L296.57 234.14 L297.31 234.20 L298.06 234.26 L298.81 234.32 L299.56 234.38 L300.31 234.43 L301.06 234.49 L301.81 234.55 L302.56 234.60 L303.31 234.66 L304.06 234.71 L304.81 234.77 L305.56 234.82 L306.30 234.87 L307.05 234.92 L307.80 234.98 L308.55 235.03 L309.30 235.08 L310.05 235.13 L310.80 235.18 L311.55 235.23 L312.30 235.28 L313.05 235.33 L313.80 235.37 L314.55 235.42 L315.29 235.47 L316.04 235.52 L316.79 235.56 L317.54 235.61 L318.29 235.66 L319.04 235.70 L319.79 235.75 L320.54 235.79 L321.29 235.83 L322.04 235.88 L322.79 235.92 L323.54 235.96 L324.28 236.01 L325.03 236.05 L325.78 236.09 L326.53 236.13 L327.28 236.17 L328.03 236.21 L328.78 236.25 L329.53 236.29 L330.28 236.33 L331.03 236.37 L331.78 236.41 L332.53 236.45 L333.27 236.49 L334.02 236.53 L334.77 236.57 L335.52 236.60 L336.27 236.64 L337.02 236.68 L337.77 236.71 L338.52 236.75 L339.27 236.79 L340.02 236.82 L340.77 236.86 L341.52 236.89 L342.26 236.93 L343.01 236.96 L343.76 237.00 L344.51 237.03 L345.26 237.06 L346.01 237.10 L346.76 237.13 L347.51 237.16 L348.26 237.19 L349.01 237.23 L349.76 237.26 L350.50 237.29 L351.25 237.32 L352.00 237.35 L352.75 237.38 L353.50 237.42 L354.25 237.45 L355.00 237.48 L355.75 237.51 L356.50 237.54 L357.25 237.57 L358.00 237.60 L358.75 237.62 L359.49 237.65 L360.24 237.68 L360.99 237.71 L361.74 237.74 L362.49 237.77 L363.24 237.80 L363.99 237.82 L364.74 237.85 L365.49 237.88 L366.24 237.91 L366.99 237.93 L367.74 237.96 L368.48 237.99 L369.23 238.01 L369.98 238.04 L370.73 238.06 L371.48 238.09 L372.23 238.11 L372.98 238.14 L373.73 238.17 L374.48 238.19 L375.23 238.21 L375.98 238.24 L376.73 238.26 L377.47 238.29 L378.22 238.31 L378.97 238.34 L379.72 238.36 L380.47 238.38 L381.22 238.41 L381.97 238.43 L382.72 238.45 L383.47 238.48 L384.22 238.50 L384.97 238.52 L385.72 238.54 L386.46 238.57 L387.21 238.59 L387.96 238.61 L388.71 238.63 L389.46 238.65 L390.21 238.67 L390.96 238.70 L391.71 238.72 L392.46 238.74 L393.21 238.76 L393.96 238.78 L394.71 238.80 L395.45 238.82 L396.20 238.84 L396.95 238.86 L397.70 238.88 L398.45 238.90 L399.20 238.92 L399.95 238.94 L400.70 238.96 L401.45 238.98 L402.20 239.00 L402.95 239.02 L403.70 239.04 L404.44 239.06 L405.19 239.08 L405.94 239.09 L406.69 239.11 L407.44 239.13 L408.19 239.15 L408.94 239.17 L409.69 239.19 L410.44 239.20 L411.19 239.22 L411.94 239.24 L412.69 239.26 L413.43 239.27 L414.18 239.29 L414.93 239.31 L415.68 239.33 L416.43 239.34 L417.18 239.36 L417.93 239.38 L418.68 239.39 L419.43 239.41 L420.18 239.43 L420.93 239.44 L421.68 239.46 L422.42 239.47 L423.17 239.49 L423.92 239.51 L424.67 239.52 L425.42 239.54 L426.17 239.55 L426.92 239.57 L427.67 239.58 L428.42 239.60 L429.17 239.62 L429.92 239.63 L430.67 239.65 L431.41 239.66 L432.16 239.68 L432.91 239.69 L433.66 239.71 L434.41 239.72 L435.16 239.73 L435.91 239.75 L436.66 239.76 L437.41 239.78 L438.16 239.79 L438.91 239.81 L439.66 239.82 L440.40 239.83 L441.15 239.85 L441.90 239.86 L442.65 239.88 L443.40 239.89 L444.15 239.90 L444.90 239.92 L445.65 239.93 L446.40 239.94 L447.15 239.96 L447.90 239.97 L448.65 239.98 L449.39 239.99 L450.14 240.01 L450.89 240.02 L451.64 240.03 L452.39 240.05 L453.14 240.06 L453.89 240.07 L454.64 240.08 L455.39 240.10 L456.14 240.11 L456.89 240.12 L457.64 240.13 L458.38 240.14 L459.13 240.16 L459.88 240.17 L460.63 240.18 L461.38 240.19 L462.13 240.20 L462.88 240.22 L463.63 240.23 L464.38 240.24 L465.13 240.25 L465.88 240.26 L466.63 240.27 L467.37 240.28 L468.12 240.30 L468.87 240.31 L469.62 240.32 L470.37 240.33 L471.12 240.34 L471.87 240.35 L472.62 240.36 L473.37 240.37 L474.12 240.38 L474.87 240.39 L475.62 240.41 L476.36 240.42 L477.11 240.43 L477.86 240.44 L478.61 240.45 L479.36 240.46 L480.11 240.47 L480.86 240.48 L481.61 240.49 L482.36 240.50 L483.11 240.51 L483.86 240.52 L484.61 240.53 L485.35 240.54 L486.10 240.55 L486.85 240.56 L487.60 240.57 L488.35 240.58 L489.10 240.59 L489.85 240.60 L490.60 240.61 L491.35 240.62 L492.10 240.63 L492.85 240.63 L493.60 240.64 L494.34 240.65 L495.09 240.66 L495.84 240.67 L496.59 240.68 L497.34 240.69 L498.09 240.70 L498.84 240.71 L499.59 240.72 L500.34 240.73 L501.09 240.73 L501.84 240.74 L502.59 240.75 L503.33 240.76 L504.08 240.77 L504.83 240.78 L505.58 240.79 L506.33 240.80 L507.08 240.80 L507.83 240.81 L508.58 240.82 L509.33 240.83 L510.08 240.84 L510.83 240.85 L511.58 240.85 L512.32 240.86 L513.07 240.87 L513.82 240.88 L514.57 240.89 L515.32 240.90 L516.07 240.90 L516.82 240.91 L517.57 240.92 L518.32 240.93 L519.07 240.93 L519.82 240.94 L520.56 240.95 L521.31 240.96 L522.06 240.97 L522.81 240.97 L523.56 240.98 L524.31 240.99 L525.06 241.00 L525.81 241.00 L526.56 241.01 L527.31 241.02 L528.06 241.03 L528.81 241.03 L529.55 241.04 L530.30 241.05 L531.05 241.06 L531.80 241.06 L532.55 241.07 L533.30 241.08 L534.05 241.08 L534.80 241.09 L535.55 241.10 L536.30 241.11 L537.05 241.11 L537.80 241.12 L538.54 241.13 L539.29 241.13 L540.04 241.14 L540.79 241.15 L541.54 241.15 L542.29 241.16 L543.04 241.17 L543.79 241.17 L544.54 241.18 L545.29 241.19 L546.04 241.19 L546.79 241.20 L547.53 241.21 L548.28 241.21 L549.03 241.22 L549.78 241.23 L550.53 241.23 L551.28 241.24 L552.03 241.25 L552.78 241.25 L553.53 241.26 L554.28 241.26 L555.03 241.27 L555.78 241.28 L556.52 241.28 L557.27 241.29 L558.02 241.30 L558.77 241.30 L559.52 241.31 L560.27 241.31 L561.02 241.32 L561.77 241.33 L562.52 241.33 L563.27 241.34 L564.02 241.34 L564.77 241.35 L565.51 241.36 L566.26 241.36 L567.01 241.37 L567.76 241.37 L568.51 241.38 L569.26 241.38 L570.01 241.39 L570.76 241.40 L571.51 241.40 L572.26 241.41 L573.01 241.41 L573.76 241.42 L574.50 241.42 L575.25 241.43 L576.00 241.43 L576.75 241.44 L577.50 241.45 L578.25 241.45 L579.00 241.46 L579.75 241.46 L580.50 241.47 L581.25 241.47 L582.00 241.48 L582.75 241.48 L583.49 241.49 L584.24 241.49 L584.99 241.50 L585.74 241.50 L586.49 241.51 L587.24 241.51 L587.99 241.52 L588.74 241.52 L589.49 241.53 L590.24 241.53 L590.99 241.54 L591.74 241.54 L592.48 241.55 L593.23 241.55 L593.98 241.56 L594.73 241.56 L595.48 241.57 L596.23 241.57 L596.98 241.58 L597.73 241.58 L598.48 241.59 L599.23 241.59 L599.98 241.60 L600.73 241.60 L601.47 241.61 L602.22 241.61 L602.97 241.62 L603.72 241.62 L604.47 241.63 L605.22 241.63 L605.97 241.64 L606.72 241.64 L607.47 241.65 L608.22 241.65 L608.97 241.65 L609.72 241.66 L610.46 241.66 L611.21 241.67 L611.96 241.67 L612.71 241.68 L613.46 241.68 L614.21 241.69 L614.96 241.69 L615.71 241.70 L616.46 241.70 L617.21 241.70 L617.96 241.71 L618.71 241.71 L619.45 241.72 L620.20 241.72 L620.95 241.73 L621.70 241.73 L622.45 241.73 L623.20 241.74 L623.95 241.74 L624.70 241.75 L625.45 241.75 L626.20 241.75 L626.95 241.76 L627.70 241.76 L628.44 241.77 L629.19 241.77 L629.94 241.78 L630.69 241.78 L631.44 241.78 L632.19 241.79 L632.94 241.79 L633.69 241.80 L634.44 241.80 L635.19 241.80 L635.94 241.81 L636.69 241.81 L637.43 241.82 L638.18 241.82 L638.93 241.82 L639.68 241.83 L640.43 241.83 L641.18 241.83 L641.93 241.84 L642.68 241.84 L643.43 241.85 L644.18 241.85 L644.93 241.85 L645.68 241.86 L646.42 241.86 L647.17 241.86 L647.92 241.87 L648.67 241.87 L649.42 241.88 L650.17 241.88 L650.92 241.88 L651.67 241.89 L652.42 241.89 L653.17 241.89 L653.92 241.90 L654.67 241.90 L655.41 241.90 L656.16 241.91 L656.91 241.91" stroke="#000000" stroke-width="1.15" stroke-dasharray="8.55 6.22" stroke-dashoffset="2.2"/>
<path d="M84.71 -57.51 L84.82 -48.90 L84.93 -40.63 L85.04 -32.69 L85.16 -25.05 L85.27 -17.71 L85.38 -10.64 L85.49 -3.83 L85.60 2.73 L85.72 9.04 L85.83 15.14 L85.94 21.01 L86.05 26.68 L86.16 32.16 L86.28 37.44 L86.39 42.55 L86.50 47.49 L86.61 52.26 L86.72 56.88 L86.83 61.35 L86.95 65.67 L87.06 69.86 L87.17 73.92 L87.28 77.85 L87.39 81.66 L87.51 85.36 L87.62 88.94 L87.73 92.42 L87.84 95.79 L87.95 99.07 L88.07 102.25 L88.18 105.34 L88.29 108.34 L88.40 111.26 L88.51 114.10 L88.63 116.86 L88.74 119.54 L88.85 122.15 L88.96 124.69 L89.07 127.16 L89.19 129.56 L89.30 131.90 L89.41 134.19 L89.52 136.41 L89.63 138.57 L89.74 140.68 L89.86 142.74 L89.97 144.74 L90.08 146.70 L90.19 148.60 L90.30 150.46 L90.42 152.28 L90.53 154.05 L90.64 155.77 L90.75 157.46 L90.86 159.11 L90.98 160.71 L91.09 162.28 L91.20 163.82 L91.31 165.31 L91.42 166.78 L91.54 168.21 L91.65 169.60 L91.76 170.97 L91.87 172.30 L91.98 173.61 L92.10 174.88 L92.21 176.13 L92.32 177.35 L92.43 178.54 L92.54 179.71 L92.66 180.85 L92.77 181.97 L92.88 183.07 L92.99 184.14 L93.10 185.18 L93.21 186.21 L93.33 187.21 L93.44 188.20 L93.55 189.16 L93.66 190.10 L93.77 191.03 L93.89 191.93 L94.00 192.82 L94.11 193.69 L94.22 194.54 L94.33 195.37 L94.45 196.19 L94.56 196.99 L94.67 197.77 L94.78 198.54 L94.89 199.30 L95.01 200.03 L95.12 200.76 L95.23 201.47 L95.34 202.17 L95.45 202.85 L95.57 203.52 L95.68 204.18 L95.79 204.82 L95.90 205.46 L96.01 206.08 L96.12 206.69 L96.24 207.29 L96.35 207.87 L96.46 208.45 L96.57 209.01 L96.68 209.57 L96.80 210.11 L96.91 210.65 L97.02 211.17 L97.13 211.69 L97.24 212.19 L97.36 212.69 L97.47 213.18 L97.58 213.66 L97.69 214.13 L97.80 214.59 L97.92 215.04 L98.03 215.49 L98.14 215.93 L98.25 216.36 L98.36 216.78 L98.48 217.20 L98.59 217.60 L98.70 218.00 L98.81 218.40 L98.92 218.79 L99.03 219.17 L99.15 219.54 L99.26 219.91 L99.37 220.27 L99.48 220.62 L99.59 220.97 L99.71 221.32 L99.82 221.65 L99.93 221.99 L100.04 222.31 L100.15 222.63 L100.27 222.95 L100.38 223.26 L100.49 223.56 L100.60 223.86 L100.71 224.16 L100.83 224.45 L100.94 224.74 L101.05 225.02 L101.16 225.29 L101.27 225.56 L101.39 225.83 L101.50 226.09 L101.61 226.35 L101.72 226.61 L101.83 226.86 L101.95 227.11 L102.06 227.35 L102.17 227.59 L102.28 227.82 L102.39 228.05 L102.50 228.28 L102.62 228.50 L102.73 228.73 L102.84 228.94 L102.95 229.16 L103.06 229.37 L103.18 229.57 L103.29 229.78 L103.40 229.98 L103.51 230.18 L103.62 230.37 L103.74 230.56 L103.85 230.75 L103.96 230.94 L104.07 231.12 L104.18 231.30 L104.30 231.48 L104.41 231.65 L104.52 231.82 L104.63 231.99 L104.74 232.16 L104.86 232.33 L104.97 232.49 L105.08 232.65 L105.19 232.80 L105.30 232.96 L105.41 233.11 L105.53 233.26 L105.64 233.41 L105.75 233.56 L105.86 233.70 L105.97 233.84 L106.09 233.98 L106.20 234.12 L106.31 234.25 L106.42 234.39 L106.53 234.52 L106.65 234.65 L106.76 234.78 L106.87 234.90 L106.98 235.03 L107.09 235.15 L107.21 235.27 L107.32 235.39 L107.43 235.51 L107.54 235.62 L107.65 235.74 L107.77 235.85 L107.88 235.96 L107.99 236.07 L108.10 236.18 L108.21 236.28 L108.32 236.39 L108.44 236.49 L108.55 236.59 L108.66 236.69 L108.77 236.79 L108.88 236.89 L109.00 236.98 L109.11 237.08 L109.22 237.17 L109.33 237.27 L109.44 237.36 L109.56 237.45 L109.67 237.53 L109.78 237.62 L109.89 237.71 L110.00 237.79 L110.12 237.88 L110.23 237.96 L110.34 238.04 L110.45 238.12 L110.56 238.20 L110.68 238.28 L110.79 238.36 L110.90 238.43 L111.01 238.51 L111.12 238.58 L111.23 238.65 L111.35 238.73 L111.46 238.80 L111.57 238.87 L111.68 238.94 L111.79 239.01 L111.91 239.07 L112.02 239.14 L112.13 239.20 L112.24 239.27 L112.35 239.33 L112.47 239.40 L112.58 239.46 L112.69 239.52 L112.80 239.58 L112.91 239.64 L113.03 239.70 L113.14 239.76 L113.25 239.82 L113.36 239.87 L113.47 239.93 L113.59 239.98 L113.70 240.04 L113.81 240.09 L113.92 240.15 L114.03 240.20 L114.15 240.25 L114.26 240.30 L114.37 240.35 L114.48 240.40 L114.59 240.45 L114.70 240.50 L114.82 240.55 L114.93 240.60 L115.04 240.64 L115.15 240.69 L115.26 240.73 L115.38 240.78 L115.49 240.82 L115.60 240.87 L115.71 240.91 L115.82 240.95 L115.94 241.00 L116.05 241.04 L116.16 241.08 L116.27 241.12 L116.38 241.16 L116.50 241.20 L116.61 241.24 L116.72 241.28 L116.83 241.32 L116.94 241.35 L117.06 241.39 L117.17 241.43 L117.28 241.46 L117.39 241.50 L117.50 241.54 L117.61 241.57 L117.73 241.61 L117.84 241.64 L117.95 241.67 L118.06 241.71 L118.17 241.74 L118.29 241.77 L118.40 241.80 L118.51 241.84 L118.62 241.87 L118.73 241.90 L118.85 241.93 L118.96 241.96 L119.07 241.99 L119.18 242.02 L119.29 242.05 L119.41 242.08 L119.52 242.11 L119.63 242.13 L119.74 242.16 L119.85 242.19 L119.97 242.22 L120.08 242.24 L120.19 242.27 L120.30 242.30 L120.41 242.32 L120.52 242.35 L120.64 242.37 L120.75 242.40 L120.86 242.42 L120.97 242.45 L121.08 242.47 L121.20 242.49 L121.31 242.52 L121.42 242.54 L121.53 242.56 L121.64 242.59 L121.76 242.61 L121.87 242.63 L121.98 242.65 L122.09 242.67 L122.20 242.70 L122.32 242.72 L122.43 242.74 L122.54 242.76 L122.65 242.78 L122.76 242.80 L122.88 242.82 L122.99 242.84 L123.10 242.86 L123.21 242.88 L123.32 242.90 L123.44 242.91 L123.55 242.93 L123.66 242.95 L123.77 242.97 L123.88 242.99 L123.99 243.00 L124.11 243.02 L124.22 243.04 L124.33 243.06 L124.44 243.07 L124.55 243.09 L124.67 243.11 L124.78 243.12 L124.89 243.14 L125.00 243.16 L125.11 243.17 L125.23 243.19 L125.34 243.20 L125.45 243.22 L125.56 243.23 L125.67 243.25 L125.79 243.26 L125.90 243.28 L126.01 243.29 L126.12 243.30 L126.23 243.32 L126.35 243.33 L126.46 243.35 L126.57 243.36 L126.68 243.37 L126.79 243.39 L126.90 243.40 L127.02 243.41 L127.13 243.43 L127.24 243.44 L127.35 243.45 L127.46 243.46 L127.58 243.47 L127.69 243.49 L127.80 243.50 L127.91 243.51 L128.02 243.52 L128.14 243.53 L128.25 243.55 L128.36 243.56 L128.47 243.57 L128.58 243.58 L128.70 243.59 L128.81 243.60 L128.92 243.61 L129.03 243.62 L129.14 243.63 L129.26 243.64 L129.37 243.65 L129.48 243.66 L129.59 243.67 L129.70 243.68 L129.81 243.69 L129.93 243.70 L130.04 243.71 L130.15 243.72 L130.26 243.73 L130.37 243.74 L130.49 243.75 L130.60 243.76 L130.71 243.77 L130.82 243.77 L130.93 243.78 L131.05 243.79 L131.16 243.80 L131.27 243.81 L131.38 243.82 L131.49 243.82 L131.61 243.83 L131.72 243.84 L131.83 243.85 L131.94 243.86 L132.05 243.86 L132.17 243.87 L132.28 243.88 L132.39 243.89 L132.50 243.89 L132.61 243.90 L132.73 243.91 L132.84 243.92 L132.95 243.92 L133.06 243.93 L133.17 243.94 L133.28 243.94 L133.40 243.95 L133.51 243.96 L133.62 243.96 L133.73 243.97 L133.84 243.98 L133.96 243.98 L134.07 243.99 L134.18 244.00 L134.29 244.00 L134.40 244.01 L134.52 244.01 L134.63 244.02 L134.74 244.03 L134.85 244.03 L134.96 244.04 L135.08 244.04 L135.19 244.05 L135.30 244.05 L135.41 244.06 L135.52 244.07 L135.64 244.07 L135.75 244.08 L135.86 244.08 L135.97 244.09 L136.08 244.09 L136.19 244.10 L136.31 244.10 L136.42 244.11 L136.53 244.11 L136.64 244.12 L136.75 244.12 L136.87 244.13 L136.98 244.13 L137.09 244.13 L137.20 244.14 L137.31 244.14 L137.43 244.15 L137.54 244.15 L137.65 244.16 L137.76 244.16 L137.87 244.17 L137.99 244.17 L138.10 244.17 L138.21 244.18 L138.32 244.18 L138.43 244.19 L138.55 244.19 L138.66 244.19 L138.77 244.20 L138.88 244.20 L138.99 244.21 L139.10 244.21 L139.22 244.21 L139.33 244.22 L139.44 244.22 L139.55 244.22 L139.66 244.23 L139.78 244.23 L139.89 244.23 L140.00 244.24 L140.11 244.24 L140.22 244.24 L140.34 244.25 L140.45 244.25 L140.56 244.25 L140.67 244.26 L140.78 244.26 L140.90 244.26 L141.01 244.27 L141.12 244.27 L141.23 244.27 L141.34 244.28 L141.46 244.28 L141.57 244.28 L141.68 244.28 L141.79 244.29 L141.90 244.29 L142.01 244.29 L142.13 244.30 L142.24 244.30 L142.35 244.30 L142.46 244.30 L142.57 244.31 L142.69 244.31 L142.80 244.31 L142.91 244.31 L143.02 244.32 L143.13 244.32 L143.25 244.32 L143.36 244.32 L143.47 244.33 L143.58 244.33 L143.69 244.33 L143.81 244.33 L143.92 244.33 L144.03 244.34 L144.14 244.34 L144.25 244.34 L144.37 244.34 L144.48 244.35 L144.59 244.35 L144.70 244.35 L144.81 244.35 L144.93 244.35 L145.04 244.36 L145.15 244.36 L145.26 244.36 L145.37 244.36 L145.48 244.36 L145.60 244.37 L145.71 244.37 L145.82 244.37 L145.93 244.37 L146.04 244.37 L146.16 244.37 L146.27 244.38 L146.38 244.38 L146.49 244.38 L146.60 244.38 L146.72 244.38 L146.83 244.38 L146.94 244.39 L147.05 244.39 L147.16 244.39 L147.28 244.39 L147.39 244.39 L147.50 244.39 L147.61 244.39 L147.72 244.40 L147.84 244.40 L147.95 244.40 L148.06 244.40 L148.17 244.40 L148.28 244.40 L148.39 244.40 L148.51 244.41 L148.62 244.41 L148.73 244.41 L148.84 244.41 L148.95 244.41 L149.07 244.41 L149.18 244.41 L149.29 244.41 L149.40 244.42 L149.51 244.42 L149.63 244.42 L149.74 244.42 L149.85 244.42 L149.96 244.42 L150.07 244.42 L150.19 244.42 L150.30 244.42 L150.41 244.42 L150.52 244.43 L150.63 244.43 L150.75 244.43 L150.86 244.43 L150.97 244.43 L151.08 244.43 L151.19 244.43 L151.30 244.43 L151.42 244.43 L151.53 244.43 L151.64 244.43 L151.75 244.44 L151.86 244.44 L151.98 244.44 L152.09 244.44 L152.20 244.44 L152.31 244.44 L152.42 244.44 L152.54 244.44 L152.65 244.44 L152.76 244.44 L152.87 244.44 L152.98 244.44 L153.10 244.44 L153.21 244.45 L153.32 244.45 L153.43 244.45 L153.54 244.45 L153.66 244.45 L153.77 244.45 L153.88 244.45 L153.99 244.45 L154.10 244.45 L154.22 244.45 L154.33 244.45 L154.44 244.45 L154.55 244.45 L154.66 244.45 L154.77 244.45 L154.89 244.45 L155.00 244.45 L155.11 244.46 L155.22 244.46 L155.33 244.46 L155.45 244.46 L155.56 244.46 L155.67 244.46 L155.78 244.46 L155.89 244.46 L156.01 244.46 L156.12 244.46 L156.23 244.46 L156.34 244.46 L156.45 244.46 L156.57 244.46 L156.68 244.46 L156.79 244.46 L156.90 244.46 L157.01 244.46 L157.13 244.46 L157.24 244.46 L157.35 244.46 L157.46 244.46 L157.57 244.46 L157.68 244.46 L157.80 244.46 L157.91 244.46 L158.02 244.46 L158.13 244.46 L158.24 244.46 L158.36 244.47 L158.47 244.47 L158.58 244.47 L158.69 244.47 L158.80 244.47 L158.92 244.47 L159.03 244.47 L159.14 244.47 L159.25 244.47 L159.36 244.47 L159.48 244.47 L159.59 244.47 L159.70 244.47 L159.81 244.47 L159.92 244.47 L160.04 244.47 L160.15 244.47 L160.26 244.47 L160.37 244.47 L160.48 244.47 L160.59 244.47 L160.71 244.47 L160.82 244.47 L160.93 244.47 L161.04 244.47 L161.15 244.47 L161.27 244.47 L161.38 244.47 L161.49 244.47 L161.60 244.47 L161.71 244.47 L161.83 244.47 L161.94 244.47 L162.05 244.47 L162.16 244.47 L162.27 244.47 L162.39 244.47 L162.50 244.47 L162.61 244.47 L162.72 244.47 L162.83 244.47 L162.95 244.47 L163.06 244.47 L163.17 244.47 L163.28 244.47 L163.39 244.47 L163.51 244.47 L163.62 244.47 L163.73 244.47 L163.84 244.47 L163.95 244.47 L164.06 244.47 L164.18 244.47 L164.29 244.47 L164.40 244.47 L164.51 244.47 L164.62 244.47 L164.74 244.47 L164.85 244.47 L164.96 244.47 L165.07 244.47 L165.18 244.47 L165.30 244.47 L165.41 244.47 L165.52 244.47 L165.63 244.47 L165.74 244.47 L165.86 244.47 L165.97 244.47 L166.08 244.47 L166.19 244.47 L166.30 244.47 L166.42 244.47 L166.53 244.47 L166.64 244.47 L166.75 244.47 L166.86 244.47 L166.97 244.47 L167.09 244.47 L167.20 244.46 L167.31 244.46 L167.42 244.46 L167.53 244.46 L167.65 244.46 L167.76 244.46 L167.87 244.46 L167.98 244.46 L168.09 244.46 L168.21 244.46 L168.32 244.46 L168.43 244.46 L168.54 244.46 L168.65 244.46 L168.77 244.46 L168.88 244.46 L168.99 244.46 L169.10 244.46 L169.21 244.46 L169.33 244.46 L169.44 244.46 L169.55 244.46 L169.66 244.46 L169.77 244.46 L169.88 244.46 L170.00 244.46 L170.11 244.46 L170.22 244.46 L170.33 244.46 L170.44 244.46 L170.56 244.46 L170.67 244.46 L170.78 244.46 L170.89 244.46 L171.00 244.46 L171.12 244.46 L171.23 244.46 L171.34 244.46 L171.45 244.46 L171.56 244.46 L171.68 244.46 L171.79 244.46 L171.90 244.46 L172.01 244.45 L172.12 244.45 L172.24 244.45 L172.35 244.45 L172.46 244.45 L172.57 244.45 L172.68 244.45 L172.79 244.45 L172.91 244.45 L173.02 244.45 L173.13 244.45 L173.24 244.45 L173.35 244.45 L173.47 244.45 L173.58 244.45 L173.69 244.45 L173.80 244.45 L173.91 244.45 L174.03 244.45 L174.14 244.45 L174.25 244.45 L174.36 244.45 L174.47 244.45 L174.59 244.45 L174.70 244.45 L174.81 244.45 L174.92 244.45 L175.03 244.45 L175.15 244.45 L175.26 244.45 L175.37 244.45 L175.48 244.45 L175.59 244.44 L175.71 244.44 L175.82 244.44 L175.93 244.44 L176.04 244.44 L176.15 244.44 L176.26 244.44 L176.38 244.44 L176.49 244.44 L176.60 244.44 L176.71 244.44 L176.82 244.44 L176.94 244.44 L177.05 244.44 L177.16 244.44 L177.27 244.44 L177.38 244.44 L177.50 244.44 L177.61 244.44 L177.72 244.44 L177.83 244.44 L177.94 244.44 L178.06 244.44 L178.17 244.44 L178.28 244.44 L178.39 244.44 L178.50 244.44 L178.62 244.44 L178.73 244.43 L178.84 244.43 L178.95 244.43 L179.06 244.43 L179.17 244.43 L179.29 244.43 L179.40 244.43 L179.51 244.43 L179.62 244.43 L179.73 244.43 L179.85 244.43 L179.96 244.43 L180.07 244.43 L180.18 244.43 L180.29 244.43 L180.41 244.43 L180.52 244.43 L180.63 244.43 L180.74 244.43 L180.85 244.43 L180.97 244.43 L181.08 244.43 L181.19 244.43 L181.30 244.43 L181.41 244.43 L181.53 244.43 L181.64 244.42 L181.75 244.42 L181.86 244.42 L181.97 244.42 L182.08 244.42 L182.20 244.42 L182.31 244.42 L182.42 244.42 L182.53 244.42 L182.64 244.42 L182.76 244.42 L182.87 244.42 L182.98 244.42 L183.09 244.42 L183.20 244.42 L183.32 244.42 L183.43 244.42 L183.54 244.42 L183.65 244.42 L183.76 244.42 L183.88 244.42 L183.99 244.42 L184.10 244.42 L184.21 244.42 L184.32 244.42 L184.44 244.41 L184.55 244.41 L184.66 244.41 L184.77 244.41 L184.88 244.41 L185.00 244.41 L185.11 244.41 L185.22 244.41 L185.33 244.41 L185.44 244.41 L185.55 244.41 L185.67 244.41 L185.78 244.41 L185.89 244.41 L186.00 244.41 L186.11 244.41 L186.23 244.41 L186.34 244.41 L186.45 244.41 L186.56 244.41 L186.67 244.41 L186.79 244.41 L186.90 244.41 L187.01 244.41 L187.12 244.41 L187.23 244.40 L187.35 244.40 L187.46 244.40 L187.57 244.40 L187.68 244.40 L187.79 244.40 L187.91 244.40 L188.02 244.40 L188.13 244.40 L188.24 244.40 L188.35 244.40 L188.46 244.40 L188.58 244.40 L188.69 244.40 L188.80 244.40 L188.91 244.40 L189.02 244.40 L189.14 244.40 L189.25 244.40 L189.36 244.40 L189.47 244.40 L189.58 244.40 L189.70 244.40 L189.81 244.40 L189.92 244.39 L190.03 244.39 L190.14 244.39 L190.26 244.39 L190.37 244.39 L190.48 244.39 L190.59 244.39 L190.70 244.39 L190.82 244.39 L190.93 244.39 L191.04 244.39 L191.15 244.39 L191.26 244.39 L191.37 244.39 L191.49 244.39 L191.60 244.39 L191.71 244.39 L191.82 244.39 L191.93 244.39 L192.05 244.39 L192.16 244.39 L192.27 244.39 L192.38 244.39 L192.49 244.39 L192.61 244.38 L192.72 244.38 L192.83 244.38 L192.94 244.38 L193.05 244.38 L193.17 244.38 L193.28 244.38 L193.39 244.38 L193.50 244.38 L193.61 244.38 L193.73 244.38 L193.84 244.38 L193.95 244.38 L194.06 244.38 L194.17 244.38 L194.29 244.38 L194.40 244.38 L194.51 244.38 L194.62 244.38 L194.73 244.38 L194.84 244.38 L194.96 244.38 L195.07 244.38 L195.18 244.38 L195.29 244.38 L195.40 244.37 L195.52 244.37 L195.63 244.37 L195.74 244.37 L195.85 244.37 L195.96 244.37 L196.08 244.37 L196.19 244.37 L196.30 244.37 L196.41 244.37 L196.52 244.37 L196.64 244.37 L196.75 244.37 L196.86 244.37 L196.97 244.37 L197.08 244.37 L197.20 244.37 L197.31 244.37 L197.42 244.37 L197.53 244.37 L197.64 244.37 L197.75 244.37 L197.87 244.37 L197.98 244.37 L198.09 244.36 L198.20 244.36 L198.31 244.36 L198.43 244.36 L198.54 244.36 L198.65 244.36 L198.76 244.36 L198.87 244.36 L198.99 244.36 L199.10 244.36 L199.21 244.36 L199.32 244.36 L199.43 244.36 L199.55 244.36 L199.66 244.36 L199.77 244.36 L199.88 244.36 L199.99 244.36 L200.11 244.36 L200.22 244.36 L200.33 244.36 L200.44 244.36 L200.55 244.36 L200.66 244.36 L200.78 244.36 L200.89 244.35 L201.00 244.35 L201.11 244.35 L201.22 244.35 L201.34 244.35 L201.45 244.35 L201.56 244.35 L201.67 244.35 L201.78 244.35 L201.90 244.35 L202.01 244.35 L202.12 244.35 L202.23 244.35 L202.34 244.35 L202.46 244.35 L202.57 244.35 L202.68 244.35 L202.79 244.35 L202.90 244.35 L203.02 244.35 L203.13 244.35 L203.24 244.35 L203.35 244.35 L203.46 244.35 L203.57 244.35 L203.69 244.35 L203.80 244.34 L203.91 244.34 L204.02 244.34 L204.13 244.34 L204.25 244.34 L204.36 244.34 L204.47 244.34 L204.58 244.34 L204.69 244.34 L204.81 244.34 L204.92 244.34 L205.03 244.34 L205.14 244.34 L205.25 244.34 L205.37 244.34 L205.48 244.34 L205.59 244.34 L205.70 244.34 L205.81 244.34 L205.93 244.34 L206.04 244.34 L206.15 244.34 L206.26 244.34 L206.37 244.34 L206.49 244.34 L206.60 244.34 L206.71 244.33 L206.82 244.33 L206.93 244.33 L207.04 244.33 L207.16 244.33 L207.27 244.33 L207.38 244.33 L207.49 244.33 L207.60 244.33 L207.72 244.33 L207.83 244.33 L207.94 244.33 L208.05 244.33 L208.16 244.33 L208.91 244.33 L209.66 244.32 L210.41 244.32 L211.16 244.32 L211.91 244.32 L212.66 244.32 L213.41 244.31 L214.16 244.31 L214.91 244.31 L215.66 244.31 L216.40 244.30 L217.15 244.30 L217.90 244.30 L218.65 244.30 L219.40 244.29 L220.15 244.29 L220.90 244.29 L221.65 244.29 L222.40 244.29 L223.15 244.28 L223.90 244.28 L224.65 244.28 L225.39 244.28 L226.14 244.28 L226.89 244.27 L227.64 244.27 L228.39 244.27 L229.14 244.27 L229.89 244.27 L230.64 244.26 L231.39 244.26 L232.14 244.26 L232.89 244.26 L233.64 244.26 L234.38 244.25 L235.13 244.25 L235.88 244.25 L236.63 244.25 L237.38 244.25 L238.13 244.24 L238.88 244.24 L239.63 244.24 L240.38 244.24 L241.13 244.24 L241.88 244.24 L242.63 244.23 L243.37 244.23 L244.12 244.23 L244.87 244.23 L245.62 244.23 L246.37 244.23 L247.12 244.22 L247.87 244.22 L248.62 244.22 L249.37 244.22 L250.12 244.22 L250.87 244.22 L251.62 244.21 L252.36 244.21 L253.11 244.21 L253.86 244.21 L254.61 244.21 L255.36 244.21 L256.11 244.21 L256.86 244.20 L257.61 244.20 L258.36 244.20 L259.11 244.20 L259.86 244.20 L260.61 244.20 L261.35 244.20 L262.10 244.19 L262.85 244.19 L263.60 244.19 L264.35 244.19 L265.10 244.19 L265.85 244.19 L266.60 244.19 L267.35 244.19 L268.10 244.18 L268.85 244.18 L269.60 244.18 L270.34 244.18 L271.09 244.18 L271.84 244.18 L272.59 244.18 L273.34 244.18 L274.09 244.17 L274.84 244.17 L275.59 244.17 L276.34 244.17 L277.09 244.17 L277.84 244.17 L278.59 244.17 L279.33 244.17 L280.08 244.17 L280.83 244.16 L281.58 244.16 L282.33 244.16 L283.08 244.16 L283.83 244.16 L284.58 244.16 L285.33 244.16 L286.08 244.16 L286.83 244.16 L287.58 244.16 L288.32 244.15 L289.07 244.15 L289.82 244.15 L290.57 244.15 L291.32 244.15 L292.07 244.15 L292.82 244.15 L293.57 244.15 L294.32 244.15 L295.07 244.15 L295.82 244.15 L296.57 244.14 L297.31 244.14 L298.06 244.14 L298.81 244.14 L299.56 244.14 L300.31 244.14 L301.06 244.14 L301.81 244.14 L302.56 244.14 L303.31 244.14 L304.06 244.14 L304.81 244.13 L305.56 244.13 L306.30 244.13 L307.05 244.13 L307.80 244.13 L308.55 244.13 L309.30 244.13 L310.05 244.13 L310.80 244.13 L311.55 244.13 L312.30 244.13 L313.05 244.13 L313.80 244.13 L314.55 244.12 L315.29 244.12 L316.04 244.12 L316.79 244.12 L317.54 244.12 L318.29 244.12 L319.04 244.12 L319.79 244.12 L320.54 244.12 L321.29 244.12 L322.04 244.12 L322.79 244.12 L323.54 244.12 L324.28 244.12 L325.03 244.12 L325.78 244.11 L326.53 244.11 L327.28 244.11 L328.03 244.11 L328.78 244.11 L329.53 244.11 L330.28 244.11 L331.03 244.11 L331.78 244.11 L332.53 244.11 L333.27 244.11 L334.02 244.11 L334.77 244.11 L335.52 244.11 L336.27 244.11 L337.02 244.11 L337.77 244.10 L338.52 244.10 L339.27 244.10 L340.02 244.10 L340.77 244.10 L341.52 244.10 L342.26 244.10 L343.01 244.10 L343.76 244.10 L344.51 244.10 L345.26 244.10 L346.01 244.10 L346.76 244.10 L347.51 244.10 L348.26 244.10 L349.01 244.10 L349.76 244.10 L350.50 244.10 L351.25 244.09 L352.00 244.09 L352.75 244.09 L353.50 244.09 L354.25 244.09 L355.00 244.09 L355.75 244.09 L356.50 244.09 L357.25 244.09 L358.00 244.09 L358.75 244.09 L359.49 244.09 L360.24 244.09 L360.99 244.09 L361.74 244.09 L362.49 244.09 L363.24 244.09 L363.99 244.09 L364.74 244.09 L365.49 244.09 L366.24 244.09 L366.99 244.09 L367.74 244.08 L368.48 244.08 L369.23 244.08 L369.98 244.08 L370.73 244.08 L371.48 244.08 L372.23 244.08 L372.98 244.08 L373.73 244.08 L374.48 244.08 L375.23 244.08 L375.98 244.08 L376.73 244.08 L377.47 244.08 L378.22 244.08 L378.97 244.08 L379.72 244.08 L380.47 244.08 L381.22 244.08 L381.97 244.08 L382.72 244.08 L383.47 244.08 L384.22 244.08 L384.97 244.08 L385.72 244.08 L386.46 244.07 L387.21 244.07 L387.96 244.07 L388.71 244.07 L389.46 244.07 L390.21 244.07 L390.96 244.07 L391.71 244.07 L392.46 244.07 L393.21 244.07 L393.96 244.07 L394.71 244.07 L395.45 244.07 L396.20 244.07 L396.95 244.07 L397.70 244.07 L398.45 244.07 L399.20 244.07 L399.95 244.07 L400.70 244.07 L401.45 244.07 L402.20 244.07 L402.95 244.07 L403.70 244.07 L404.44 244.07 L405.19 244.07 L405.94 244.07 L406.69 244.07 L407.44 244.07 L408.19 244.06 L408.94 244.06 L409.69 244.06 L410.44 244.06 L411.19 244.06 L411.94 244.06 L412.69 244.06 L413.43 244.06 L414.18 244.06 L414.93 244.06 L415.68 244.06 L416.43 244.06 L417.18 244.06 L417.93 244.06 L418.68 244.06 L419.43 244.06 L420.18 244.06 L420.93 244.06 L421.68 244.06 L422.42 244.06 L423.17 244.06 L423.92 244.06 L424.67 244.06 L425.42 244.06 L426.17 244.06 L426.92 244.06 L427.67 244.06 L428.42 244.06 L429.17 244.06 L429.92 244.06 L430.67 244.06 L431.41 244.06 L432.16 244.06 L432.91 244.06 L433.66 244.06 L434.41 244.06 L435.16 244.06 L435.91 244.05 L436.66 244.05 L437.41 244.05 L438.16 244.05 L438.91 244.05 L439.66 244.05 L440.40 244.05 L441.15 244.05 L441.90 244.05 L442.65 244.05 L443.40 244.05 L444.15 244.05 L444.90 244.05 L445.65 244.05 L446.40 244.05 L447.15 244.05 L447.90 244.05 L448.65 244.05 L449.39 244.05 L450.14 244.05 L450.89 244.05 L451.64 244.05 L452.39 244.05 L453.14 244.05 L453.89 244.05 L454.64 244.05 L455.39 244.05 L456.14 244.05 L456.89 244.05 L457.64 244.05 L458.38 244.05 L459.13 244.05 L459.88 244.05 L460.63 244.05 L461.38 244.05 L462.13 244.05 L462.88 244.05 L463.63 244.05 L464.38 244.05 L465.13 244.05 L465.88 244.05 L466.63 244.05 L467.37 244.05 L468.12 244.05 L468.87 244.05 L469.62 244.05 L470.37 244.05 L471.12 244.04 L471.87 244.04 L472.62 244.04 L473.37 244.04 L474.12 244.04 L474.87 244.04 L475.62 244.04 L476.36 244.04 L477.11 244.04 L477.86 244.04 L478.61 244.04 L479.36 244.04 L480.11 244.04 L480.86 244.04 L481.61 244.04 L482.36 244.04 L483.11 244.04 L483.86 244.04 L484.61 244.04 L485.35 244.04 L486.10 244.04 L486.85 244.04 L487.60 244.04 L488.35 244.04 L489.10 244.04 L489.85 244.04 L490.60 244.04 L491.35 244.04 L492.10 244.04 L492.85 244.04 L493.60 244.04 L494.34 244.04 L495.09 244.04 L495.84 244.04 L496.59 244.04 L497.34 244.04 L498.09 244.04 L498.84 244.04 L499.59 244.04 L500.34 244.04 L501.09 244.04 L501.84 244.04 L502.59 244.04 L503.33 244.04 L504.08 244.04 L504.83 244.04 L505.58 244.04 L506.33 244.04 L507.08 244.04 L507.83 244.04 L508.58 244.04 L509.33 244.04 L510.08 244.04 L510.83 244.04 L511.58 244.04 L512.32 244.04 L513.07 244.04 L513.82 244.04 L514.57 244.04 L515.32 244.04 L516.07 244.04 L516.82 244.04 L517.57 244.03 L518.32 244.03 L519.07 244.03 L519.82 244.03 L520.56 244.03 L521.31 244.03 L522.06 244.03 L522.81 244.03 L523.56 244.03 L524.31 244.03 L525.06 244.03 L525.81 244.03 L526.56 244.03 L527.31 244.03 L528.06 244.03 L528.81 244.03 L529.55 244.03 L530.30 244.03 L531.05 244.03 L531.80 244.03 L532.55 244.03 L533.30 244.03 L534.05 244.03 L534.80 244.03 L535.55 244.03 L536.30 244.03 L537.05 244.03 L537.80 244.03 L538.54 244.03 L539.29 244.03 L540.04 244.03 L540.79 244.03 L541.54 244.03 L542.29 244.03 L543.04 244.03 L543.79 244.03 L544.54 244.03 L545.29 244.03 L546.04 244.03 L546.79 244.03 L547.53 244.03 L548.28 244.03 L549.03 244.03 L549.78 244.03 L550.53 244.03 L551.28 244.03 L552.03 244.03 L552.78 244.03 L553.53 244.03 L554.28 244.03 L555.03 244.03 L555.78 244.03 L556.52 244.03 L557.27 244.03 L558.02 244.03 L558.77 244.03 L559.52 244.03 L560.27 244.03 L561.02 244.03 L561.77 244.03 L562.52 244.03 L563.27 244.03 L564.02 244.03 L564.77 244.03 L565.51 244.03 L566.26 244.03 L567.01 244.03 L567.76 244.03 L568.51 244.03 L569.26 244.03 L570.01 244.03 L570.76 244.03 L571.51 244.03 L572.26 244.03 L573.01 244.03 L573.76 244.03 L574.50 244.03 L575.25 244.03 L576.00 244.03 L576.75 244.03 L577.50 244.03 L578.25 244.03 L579.00 244.03 L579.75 244.03 L580.50 244.03 L581.25 244.03 L582.00 244.03 L582.75 244.03 L583.49 244.02 L584.24 244.02 L584.99 244.02 L585.74 244.02 L586.49 244.02 L587.24 244.02 L587.99 244.02 L588.74 244.02 L589.49 244.02 L590.24 244.02 L590.99 244.02 L591.74 244.02 L592.48 244.02 L593.23 244.02 L593.98 244.02 L594.73 244.02 L595.48 244.02 L596.23 244.02 L596.98 244.02 L597.73 244.02 L598.48 244.02 L599.23 244.02 L599.98 244.02 L600.73 244.02 L601.47 244.02 L602.22 244.02 L602.97 244.02 L603.72 244.02 L604.47 244.02 L605.22 244.02 L605.97 244.02 L606.72 244.02 L607.47 244.02 L608.22 244.02 L608.97 244.02 L609.72 244.02 L610.46 244.02 L611.21 244.02 L611.96 244.02 L612.71 244.02 L613.46 244.02 L614.21 244.02 L614.96 244.02 L615.71 244.02 L616.46 244.02 L617.21 244.02 L617.96 244.02 L618.71 244.02 L619.45 244.02 L620.20 244.02 L620.95 244.02 L621.70 244.02 L622.45 244.02 L623.20 244.02 L623.95 244.02 L624.70 244.02 L625.45 244.02 L626.20 244.02 L626.95 244.02 L627.70 244.02 L628.44 244.02 L629.19 244.02 L629.94 244.02 L630.69 244.02 L631.44 244.02 L632.19 244.02 L632.94 244.02 L633.69 244.02 L634.44 244.02 L635.19 244.02 L635.94 244.02 L636.69 244.02 L637.43 244.02 L638.18 244.02 L638.93 244.02 L639.68 244.02 L640.43 244.02 L641.18 244.02 L641.93 244.02 L642.68 244.02 L643.43 244.02 L644.18 244.02 L644.93 244.02 L645.68 244.02 L646.42 244.02 L647.17 244.02 L647.92 244.02 L648.67 244.02 L649.42 244.02 L650.17 244.02 L650.92 244.02 L651.67 244.02 L652.42 244.02 L653.17 244.02 L653.92 244.02 L654.67 244.02 L655.41 244.02 L656.16 244.02 L656.91 244.02" stroke="#00ff00" stroke-width="3.8"/>
<path d="M112.35 371.23 L112.47 371.11 L112.58 370.98 L112.69 370.85 L112.80 370.71 L112.91 370.56 L113.03 370.41 L113.14 370.25 L113.25 370.09 L113.36 369.92 L113.47 369.74 L113.59 369.56 L113.70 369.38 L113.81 369.19 L113.92 369.00 L114.03 368.80 L114.15 368.60 L114.26 368.40 L114.37 368.19 L114.48 367.98 L114.59 367.76 L114.70 367.54 L114.82 367.32 L114.93 367.10 L115.04 366.87 L115.15 366.64 L115.26 366.41 L115.38 366.18 L115.49 365.94 L115.60 365.70 L115.71 365.46 L115.82 365.21 L115.94 364.97 L116.05 364.72 L116.16 364.47 L116.27 364.22 L116.38 363.97 L116.50 363.72 L116.61 363.46 L116.72 363.20 L116.83 362.95 L116.94 362.69 L117.06 362.43 L117.17 362.16 L117.28 361.90 L117.39 361.64 L117.50 361.38 L117.61 361.11 L117.73 360.84 L117.84 360.58 L117.95 360.31 L118.06 360.04 L118.17 359.78 L118.29 359.51 L118.40 359.24 L118.51 358.97 L118.62 358.70 L118.73 358.43 L118.85 358.16 L118.96 357.89 L119.07 357.62 L119.18 357.34 L119.29 357.07 L119.41 356.80 L119.52 356.53 L119.63 356.26 L119.74 355.99 L119.85 355.72 L119.97 355.44 L120.08 355.17 L120.19 354.90 L120.30 354.63 L120.41 354.36 L120.52 354.09 L120.64 353.82 L120.75 353.55 L120.86 353.28 L120.97 353.01 L121.08 352.74 L121.20 352.47 L121.31 352.20 L121.42 351.93 L121.53 351.66 L121.64 351.39 L121.76 351.13 L121.87 350.86 L121.98 350.59 L122.09 350.32 L122.20 350.06 L122.32 349.79 L122.43 349.53 L122.54 349.26 L122.65 349.00 L122.76 348.74 L122.88 348.47 L122.99 348.21 L123.10 347.95 L123.21 347.69 L123.32 347.43 L123.44 347.17 L123.55 346.91 L123.66 346.65 L123.77 346.39 L123.88 346.13 L123.99 345.87 L124.11 345.61 L124.22 345.36 L124.33 345.10 L124.44 344.85 L124.55 344.59 L124.67 344.34 L124.78 344.09 L124.89 343.83 L125.00 343.58 L125.11 343.33 L125.23 343.08 L125.34 342.83 L125.45 342.58 L125.56 342.33 L125.67 342.08 L125.79 341.84 L125.90 341.59 L126.01 341.34 L126.12 341.10 L126.23 340.86 L126.35 340.61 L126.46 340.37 L126.57 340.13 L126.68 339.88 L126.79 339.64 L126.90 339.40 L127.02 339.16 L127.13 338.92 L127.24 338.69 L127.35 338.45 L127.46 338.21 L127.58 337.97 L127.69 337.74 L127.80 337.50 L127.91 337.27 L128.02 337.04 L128.14 336.80 L128.25 336.57 L128.36 336.34 L128.47 336.11 L128.58 335.88 L128.70 335.65 L128.81 335.42 L128.92 335.19 L129.03 334.97 L129.14 334.74 L129.26 334.51 L129.37 334.29 L129.48 334.07 L129.59 333.84 L129.70 333.62 L129.81 333.40 L129.93 333.17 L130.04 332.95 L130.15 332.73 L130.26 332.51 L130.37 332.30 L130.49 332.08 L130.60 331.86 L130.71 331.64 L130.82 331.43 L130.93 331.21 L131.05 331.00 L131.16 330.78 L131.27 330.57 L131.38 330.36 L131.49 330.14 L131.61 329.93 L131.72 329.72 L131.83 329.51 L131.94 329.30 L132.05 329.09 L132.17 328.89 L132.28 328.68 L132.39 328.47 L132.50 328.27 L132.61 328.06 L132.73 327.86 L132.84 327.65 L132.95 327.45 L133.06 327.25 L133.17 327.04 L133.28 326.84 L133.40 326.64 L133.51 326.44 L133.62 326.24 L133.73 326.04 L133.84 325.84 L133.96 325.65 L134.07 325.45 L134.18 325.25 L134.29 325.06 L134.40 324.86 L134.52 324.67 L134.63 324.47 L134.74 324.28 L134.85 324.09 L134.96 323.90 L135.08 323.70 L135.19 323.51 L135.30 323.32 L135.41 323.13 L135.52 322.95 L135.64 322.76 L135.75 322.57 L135.86 322.38 L135.97 322.20 L136.08 322.01 L136.19 321.82 L136.31 321.64 L136.42 321.46 L136.53 321.27 L136.64 321.09 L136.75 320.91 L136.87 320.72 L136.98 320.54 L137.09 320.36 L137.20 320.18 L137.31 320.00 L137.43 319.82 L137.54 319.65 L137.65 319.47 L137.76 319.29 L137.87 319.11 L137.99 318.94 L138.10 318.76 L138.21 318.59 L138.32 318.41 L138.43 318.24 L138.55 318.07 L138.66 317.89 L138.77 317.72 L138.88 317.55 L138.99 317.38 L139.10 317.21 L139.22 317.04 L139.33 316.87 L139.44 316.70 L139.55 316.53 L139.66 316.36 L139.78 316.19 L139.89 316.03 L140.00 315.86 L140.11 315.70 L140.22 315.53 L140.34 315.37 L140.45 315.20 L140.56 315.04 L140.67 314.87 L140.78 314.71 L140.90 314.55 L141.01 314.39 L141.12 314.23 L141.23 314.07 L141.34 313.91 L141.46 313.75 L141.57 313.59 L141.68 313.43 L141.79 313.27 L141.90 313.11 L142.01 312.96 L142.13 312.80 L142.24 312.64 L142.35 312.49 L142.46 312.33 L142.57 312.18 L142.69 312.02 L142.80 311.87 L142.91 311.72 L143.02 311.56 L143.13 311.41 L143.25 311.26 L143.36 311.11 L143.47 310.96 L143.58 310.81 L143.69 310.66 L143.81 310.51 L143.92 310.36 L144.03 310.21 L144.14 310.06 L144.25 309.91 L144.37 309.77 L144.48 309.62 L144.59 309.47 L144.70 309.33 L144.81 309.18 L144.93 309.04 L145.04 308.89 L145.15 308.75 L145.26 308.60 L145.37 308.46 L145.48 308.32 L145.60 308.18 L145.71 308.03 L145.82 307.89 L145.93 307.75 L146.04 307.61 L146.16 307.47 L146.27 307.33 L146.38 307.19 L146.49 307.05 L146.60 306.91 L146.72 306.78 L146.83 306.64 L146.94 306.50 L147.05 306.36 L147.16 306.23 L147.28 306.09 L147.39 305.96 L147.50 305.82 L147.61 305.69 L147.72 305.55 L147.84 305.42 L147.95 305.29 L148.06 305.15 L148.17 305.02 L148.28 304.89 L148.39 304.76 L148.51 304.62 L148.62 304.49 L148.73 304.36 L148.84 304.23 L148.95 304.10 L149.07 303.97 L149.18 303.84 L149.29 303.71 L149.40 303.59 L149.51 303.46 L149.63 303.33 L149.74 303.20 L149.85 303.08 L149.96 302.95 L150.07 302.82 L150.19 302.70 L150.30 302.57 L150.41 302.45 L150.52 302.32 L150.63 302.20 L150.75 302.07 L150.86 301.95 L150.97 301.83 L151.08 301.70 L151.19 301.58 L151.30 301.46 L151.42 301.34 L151.53 301.22 L151.64 301.10 L151.75 300.98 L151.86 300.86 L151.98 300.74 L152.09 300.62 L152.20 300.50 L152.31 300.38 L152.42 300.26 L152.54 300.14 L152.65 300.02 L152.76 299.91 L152.87 299.79 L152.98 299.67 L153.10 299.56 L153.21 299.44 L153.32 299.32 L153.43 299.21 L153.54 299.09 L153.66 298.98 L153.77 298.86 L153.88 298.75 L153.99 298.64 L154.10 298.52 L154.22 298.41 L154.33 298.30 L154.44 298.18 L154.55 298.07 L154.66 297.96 L154.77 297.85 L154.89 297.74 L155.00 297.63 L155.11 297.52 L155.22 297.41 L155.33 297.30 L155.45 297.19 L155.56 297.08 L155.67 296.97 L155.78 296.86 L155.89 296.75 L156.01 296.64 L156.12 296.54 L156.23 296.43 L156.34 296.32 L156.45 296.21 L156.57 296.11 L156.68 296.00 L156.79 295.90 L156.90 295.79 L157.01 295.69 L157.13 295.58 L157.24 295.48 L157.35 295.37 L157.46 295.27 L157.57 295.16 L157.68 295.06 L157.80 294.96 L157.91 294.85 L158.02 294.75 L158.13 294.65 L158.24 294.55 L158.36 294.45 L158.47 294.34 L158.58 294.24 L158.69 294.14 L158.80 294.04 L158.92 293.94 L159.03 293.84 L159.14 293.74 L159.25 293.64 L159.36 293.54 L159.48 293.44 L159.59 293.34 L159.70 293.25 L159.81 293.15 L159.92 293.05 L160.04 292.95 L160.15 292.86 L160.26 292.76 L160.37 292.66 L160.48 292.57 L160.59 292.47 L160.71 292.37 L160.82 292.28 L160.93 292.18 L161.04 292.09 L161.15 291.99 L161.27 291.90 L161.38 291.80 L161.49 291.71 L161.60 291.62 L161.71 291.52 L161.83 291.43 L161.94 291.34 L162.05 291.24 L162.16 291.15 L162.27 291.06 L162.39 290.97 L162.50 290.88 L162.61 290.78 L162.72 290.69 L162.83 290.60 L162.95 290.51 L163.06 290.42 L163.17 290.33 L163.28 290.24 L163.39 290.15 L163.51 290.06 L163.62 289.97 L163.73 289.88 L163.84 289.79 L163.95 289.71 L164.06 289.62 L164.18 289.53 L164.29 289.44 L164.40 289.35 L164.51 289.27 L164.62 289.18 L164.74 289.09 L164.85 289.01 L164.96 288.92 L165.07 288.83 L165.18 288.75 L165.30 288.66 L165.41 288.58 L165.52 288.49 L165.63 288.41 L165.74 288.32 L165.86 288.24 L165.97 288.15 L166.08 288.07 L166.19 287.98 L166.30 287.90 L166.42 287.82 L166.53 287.73 L166.64 287.65 L166.75 287.57 L166.86 287.49 L166.97 287.40 L167.09 287.32 L167.20 287.24 L167.31 287.16 L167.42 287.08 L167.53 287.00 L167.65 286.91 L167.76 286.83 L167.87 286.75 L167.98 286.67 L168.09 286.59 L168.21 286.51 L168.32 286.43 L168.43 286.35 L168.54 286.27 L168.65 286.20 L168.77 286.12 L168.88 286.04 L168.99 285.96 L169.10 285.88 L169.21 285.80 L169.33 285.73 L169.44 285.65 L169.55 285.57 L169.66 285.49 L169.77 285.42 L169.88 285.34 L170.00 285.26 L170.11 285.19 L170.22 285.11 L170.33 285.03 L170.44 284.96 L170.56 284.88 L170.67 284.81 L170.78 284.73 L170.89 284.66 L171.00 284.58 L171.12 284.51 L171.23 284.43 L171.34 284.36 L171.45 284.29 L171.56 284.21 L171.68 284.14 L171.79 284.06 L171.90 283.99 L172.01 283.92 L172.12 283.85 L172.24 283.77 L172.35 283.70 L172.46 283.63 L172.57 283.56 L172.68 283.48 L172.79 283.41 L172.91 283.34 L173.02 283.27 L173.13 283.20 L173.24 283.13 L173.35 283.06 L173.47 282.99 L173.58 282.91 L173.69 282.84 L173.80 282.77 L173.91 282.70 L174.03 282.63 L174.14 282.57 L174.25 282.50 L174.36 282.43 L174.47 282.36 L174.59 282.29 L174.70 282.22 L174.81 282.15 L174.92 282.08 L175.03 282.01 L175.15 281.95 L175.26 281.88 L175.37 281.81 L175.48 281.74 L175.59 281.68 L175.71 281.61 L175.82 281.54 L175.93 281.48 L176.04 281.41 L176.15 281.34 L176.26 281.28 L176.38 281.21 L176.49 281.14 L176.60 281.08 L176.71 281.01 L176.82 280.95 L176.94 280.88 L177.05 280.82 L177.16 280.75 L177.27 280.69 L177.38 280.62 L177.50 280.56 L177.61 280.49 L177.72 280.43 L177.83 280.37 L177.94 280.30 L178.06 280.24 L178.17 280.18 L178.28 280.11 L178.39 280.05 L178.50 279.99 L178.62 279.92 L178.73 279.86 L178.84 279.80 L178.95 279.74 L179.06 279.67 L179.17 279.61 L179.29 279.55 L179.40 279.49 L179.51 279.43 L179.62 279.36 L179.73 279.30 L179.85 279.24 L179.96 279.18 L180.07 279.12 L180.18 279.06 L180.29 279.00 L180.41 278.94 L180.52 278.88 L180.63 278.82 L180.74 278.76 L180.85 278.70 L180.97 278.64 L181.08 278.58 L181.19 278.52 L181.30 278.46 L181.41 278.40 L181.53 278.34 L181.64 278.28 L181.75 278.22 L181.86 278.17 L181.97 278.11 L182.08 278.05 L182.20 277.99 L182.31 277.93 L182.42 277.88 L182.53 277.82 L182.64 277.76 L182.76 277.70 L182.87 277.65 L182.98 277.59 L183.09 277.53 L183.20 277.47 L183.32 277.42 L183.43 277.36 L183.54 277.31 L183.65 277.25 L183.76 277.19 L183.88 277.14 L183.99 277.08 L184.10 277.03 L184.21 276.97 L184.32 276.91 L184.44 276.86 L184.55 276.80 L184.66 276.75 L184.77 276.69 L184.88 276.64 L185.00 276.58 L185.11 276.53 L185.22 276.48 L185.33 276.42 L185.44 276.37 L185.55 276.31 L185.67 276.26 L185.78 276.21 L185.89 276.15 L186.00 276.10 L186.11 276.04 L186.23 275.99 L186.34 275.94 L186.45 275.89 L186.56 275.83 L186.67 275.78 L186.79 275.73 L186.90 275.67 L187.01 275.62 L187.12 275.57 L187.23 275.52 L187.35 275.47 L187.46 275.41 L187.57 275.36 L187.68 275.31 L187.79 275.26 L187.91 275.21 L188.02 275.16 L188.13 275.11 L188.24 275.05 L188.35 275.00 L188.46 274.95 L188.58 274.90 L188.69 274.85 L188.80 274.80 L188.91 274.75 L189.02 274.70 L189.14 274.65 L189.25 274.60 L189.36 274.55 L189.47 274.50 L189.58 274.45 L189.70 274.40 L189.81 274.35 L189.92 274.30 L190.03 274.25 L190.14 274.21 L190.26 274.16 L190.37 274.11 L190.48 274.06 L190.59 274.01 L190.70 273.96 L190.82 273.91 L190.93 273.87 L191.04 273.82 L191.15 273.77 L191.26 273.72 L191.37 273.67 L191.49 273.63 L191.60 273.58 L191.71 273.53 L191.82 273.48 L191.93 273.44 L192.05 273.39 L192.16 273.34 L192.27 273.30 L192.38 273.25 L192.49 273.20 L192.61 273.16 L192.72 273.11 L192.83 273.06 L192.94 273.02 L193.05 272.97 L193.17 272.92 L193.28 272.88 L193.39 272.83 L193.50 272.79 L193.61 272.74 L193.73 272.70 L193.84 272.65 L193.95 272.61 L194.06 272.56 L194.17 272.51 L194.29 272.47 L194.40 272.42 L194.51 272.38 L194.62 272.34 L194.73 272.29 L194.84 272.25 L194.96 272.20 L195.07 272.16 L195.18 272.11 L195.29 272.07 L195.40 272.03 L195.52 271.98 L195.63 271.94 L195.74 271.89 L195.85 271.85 L195.96 271.81 L196.08 271.76 L196.19 271.72 L196.30 271.68 L196.41 271.63 L196.52 271.59 L196.64 271.55 L196.75 271.51 L196.86 271.46 L196.97 271.42 L197.08 271.38 L197.20 271.33 L197.31 271.29 L197.42 271.25 L197.53 271.21 L197.64 271.17 L197.75 271.12 L197.87 271.08 L197.98 271.04 L198.09 271.00 L198.20 270.96 L198.31 270.92 L198.43 270.87 L198.54 270.83 L198.65 270.79 L198.76 270.75 L198.87 270.71 L198.99 270.67 L199.10 270.63 L199.21 270.59 L199.32 270.55 L199.43 270.51 L199.55 270.47 L199.66 270.42 L199.77 270.38 L199.88 270.34 L199.99 270.30 L200.11 270.26 L200.22 270.22 L200.33 270.18 L200.44 270.14 L200.55 270.10 L200.66 270.07 L200.78 270.03 L200.89 269.99 L201.00 269.95 L201.11 269.91 L201.22 269.87 L201.34 269.83 L201.45 269.79 L201.56 269.75 L201.67 269.71 L201.78 269.67 L201.90 269.64 L202.01 269.60 L202.12 269.56 L202.23 269.52 L202.34 269.48 L202.46 269.44 L202.57 269.40 L202.68 269.37 L202.79 269.33 L202.90 269.29 L203.02 269.25 L203.13 269.22 L203.24 269.18 L203.35 269.14 L203.46 269.10 L203.57 269.07 L203.69 269.03 L203.80 268.99 L203.91 268.95 L204.02 268.92 L204.13 268.88 L204.25 268.84 L204.36 268.81 L204.47 268.77 L204.58 268.73 L204.69 268.70 L204.81 268.66 L204.92 268.62 L205.03 268.59 L205.14 268.55 L205.25 268.51 L205.37 268.48 L205.48 268.44 L205.59 268.41 L205.70 268.37 L205.81 268.33 L205.93 268.30 L206.04 268.26 L206.15 268.23 L206.26 268.19 L206.37 268.16 L206.49 268.12 L206.60 268.08 L206.71 268.05 L206.82 268.01 L206.93 267.98 L207.04 267.94 L207.16 267.91 L207.27 267.87 L207.38 267.84 L207.49 267.80 L207.60 267.77 L207.72 267.74 L207.83 267.70 L207.94 267.67 L208.05 267.63 L208.16 267.60 L208.91 267.37 L209.66 267.15 L210.41 266.92 L211.16 266.71 L211.91 266.49 L212.66 266.28 L213.41 266.07 L214.16 265.86 L214.91 265.66 L215.66 265.46 L216.40 265.26 L217.15 265.06 L217.90 264.87 L218.65 264.68 L219.40 264.49 L220.15 264.31 L220.90 264.12 L221.65 263.94 L222.40 263.77 L223.15 263.59 L223.90 263.42 L224.65 263.25 L225.39 263.08 L226.14 262.91 L226.89 262.74 L227.64 262.58 L228.39 262.42 L229.14 262.26 L229.89 262.11 L230.64 261.95 L231.39 261.80 L232.14 261.65 L232.89 261.50 L233.64 261.35 L234.38 261.21 L235.13 261.06 L235.88 260.92 L236.63 260.78 L237.38 260.64 L238.13 260.50 L238.88 260.37 L239.63 260.24 L240.38 260.10 L241.13 259.97 L241.88 259.84 L242.63 259.72 L243.37 259.59 L244.12 259.47 L244.87 259.34 L245.62 259.22 L246.37 259.10 L247.12 258.98 L247.87 258.87 L248.62 258.75 L249.37 258.64 L250.12 258.52 L250.87 258.41 L251.62 258.30 L252.36 258.19 L253.11 258.08 L253.86 257.98 L254.61 257.87 L255.36 257.76 L256.11 257.66 L256.86 257.56 L257.61 257.46 L258.36 257.36 L259.11 257.26 L259.86 257.16 L260.61 257.06 L261.35 256.97 L262.10 256.87 L262.85 256.78 L263.60 256.69 L264.35 256.59 L265.10 256.50 L265.85 256.41 L266.60 256.32 L267.35 256.24 L268.10 256.15 L268.85 256.06 L269.60 255.98 L270.34 255.89 L271.09 255.81 L271.84 255.73 L272.59 255.65 L273.34 255.57 L274.09 255.49 L274.84 255.41 L275.59 255.33 L276.34 255.25 L277.09 255.17 L277.84 255.10 L278.59 255.02 L279.33 254.95 L280.08 254.87 L280.83 254.80 L281.58 254.73 L282.33 254.66 L283.08 254.58 L283.83 254.51 L284.58 254.44 L285.33 254.38 L286.08 254.31 L286.83 254.24 L287.58 254.17 L288.32 254.11 L289.07 254.04 L289.82 253.98 L290.57 253.91 L291.32 253.85 L292.07 253.78 L292.82 253.72 L293.57 253.66 L294.32 253.60 L295.07 253.54 L295.82 253.48 L296.57 253.42 L297.31 253.36 L298.06 253.30 L298.81 253.24 L299.56 253.18 L300.31 253.13 L301.06 253.07 L301.81 253.02 L302.56 252.96 L303.31 252.90 L304.06 252.85 L304.81 252.80 L305.56 252.74 L306.30 252.69 L307.05 252.64 L307.80 252.59 L308.55 252.53 L309.30 252.48 L310.05 252.43 L310.80 252.38 L311.55 252.33 L312.30 252.28 L313.05 252.23 L313.80 252.19 L314.55 252.14 L315.29 252.09 L316.04 252.04 L316.79 252.00 L317.54 251.95 L318.29 251.90 L319.04 251.86 L319.79 251.81 L320.54 251.77 L321.29 251.72 L322.04 251.68 L322.79 251.64 L323.54 251.59 L324.28 251.55 L325.03 251.51 L325.78 251.46 L326.53 251.42 L327.28 251.38 L328.03 251.34 L328.78 251.30 L329.53 251.26 L330.28 251.22 L331.03 251.18 L331.78 251.14 L332.53 251.10 L333.27 251.06 L334.02 251.02 L334.77 250.98 L335.52 250.95 L336.27 250.91 L337.02 250.87 L337.77 250.83 L338.52 250.80 L339.27 250.76 L340.02 250.72 L340.77 250.69 L341.52 250.65 L342.26 250.62 L343.01 250.58 L343.76 250.55 L344.51 250.51 L345.26 250.48 L346.01 250.44 L346.76 250.41 L347.51 250.38 L348.26 250.34 L349.01 250.31 L349.76 250.28 L350.50 250.25 L351.25 250.21 L352.00 250.18 L352.75 250.15 L353.50 250.12 L354.25 250.09 L355.00 250.06 L355.75 250.03 L356.50 250.00 L357.25 249.97 L358.00 249.94 L358.75 249.91 L359.49 249.88 L360.24 249.85 L360.99 249.82 L361.74 249.79 L362.49 249.76 L363.24 249.73 L363.99 249.70 L364.74 249.67 L365.49 249.65 L366.24 249.62 L366.99 249.59 L367.74 249.56 L368.48 249.54 L369.23 249.51 L369.98 249.48 L370.73 249.46 L371.48 249.43 L372.23 249.40 L372.98 249.38 L373.73 249.35 L374.48 249.33 L375.23 249.30 L375.98 249.28 L376.73 249.25 L377.47 249.23 L378.22 249.20 L378.97 249.18 L379.72 249.15 L380.47 249.13 L381.22 249.10 L381.97 249.08 L382.72 249.06 L383.47 249.03 L384.22 249.01 L384.97 248.99 L385.72 248.96 L386.46 248.94 L387.21 248.92 L387.96 248.90 L388.71 248.87 L389.46 248.85 L390.21 248.83 L390.96 248.81 L391.71 248.79 L392.46 248.76 L393.21 248.74 L393.96 248.72 L394.71 248.70 L395.45 248.68 L396.20 248.66 L396.95 248.64 L397.70 248.62 L398.45 248.60 L399.20 248.58 L399.95 248.56 L400.70 248.53 L401.45 248.51 L402.20 248.50 L402.95 248.48 L403.70 248.46 L404.44 248.44 L405.19 248.42 L405.94 248.40 L406.69 248.38 L407.44 248.36 L408.19 248.34 L408.94 248.32 L409.69 248.30 L410.44 248.28 L411.19 248.27 L411.94 248.25 L412.69 248.23 L413.43 248.21 L414.18 248.19 L414.93 248.18 L415.68 248.16 L416.43 248.14 L417.18 248.12 L417.93 248.11 L418.68 248.09 L419.43 248.07 L420.18 248.05 L420.93 248.04 L421.68 248.02 L422.42 248.00 L423.17 247.99 L423.92 247.97 L424.67 247.95 L425.42 247.94 L426.17 247.92 L426.92 247.91 L427.67 247.89 L428.42 247.87 L429.17 247.86 L429.92 247.84 L430.67 247.83 L431.41 247.81 L432.16 247.80 L432.91 247.78 L433.66 247.77 L434.41 247.75 L435.16 247.74 L435.91 247.72 L436.66 247.71 L437.41 247.69 L438.16 247.68 L438.91 247.66 L439.66 247.65 L440.40 247.63 L441.15 247.62 L441.90 247.60 L442.65 247.59 L443.40 247.58 L444.15 247.56 L444.90 247.55 L445.65 247.53 L446.40 247.52 L447.15 247.51 L447.90 247.49 L448.65 247.48 L449.39 247.47 L450.14 247.45 L450.89 247.44 L451.64 247.43 L452.39 247.41 L453.14 247.40 L453.89 247.39 L454.64 247.37 L455.39 247.36 L456.14 247.35 L456.89 247.33 L457.64 247.32 L458.38 247.31 L459.13 247.30 L459.88 247.28 L460.63 247.27 L461.38 247.26 L462.13 247.25 L462.88 247.24 L463.63 247.22 L464.38 247.21 L465.13 247.20 L465.88 247.19 L466.63 247.18 L467.37 247.16 L468.12 247.15 L468.87 247.14 L469.62 247.13 L470.37 247.12 L471.12 247.11 L471.87 247.09 L472.62 247.08 L473.37 247.07 L474.12 247.06 L474.87 247.05 L475.62 247.04 L476.36 247.03 L477.11 247.02 L477.86 247.01 L478.61 247.00 L479.36 246.98 L480.11 246.97 L480.86 246.96 L481.61 246.95 L482.36 246.94 L483.11 246.93 L483.86 246.92 L484.61 246.91 L485.35 246.90 L486.10 246.89 L486.85 246.88 L487.60 246.87 L488.35 246.86 L489.10 246.85 L489.85 246.84 L490.60 246.83 L491.35 246.82 L492.10 246.81 L492.85 246.80 L493.60 246.79 L494.34 246.78 L495.09 246.77 L495.84 246.76 L496.59 246.75 L497.34 246.74 L498.09 246.73 L498.84 246.72 L499.59 246.71 L500.34 246.70 L501.09 246.70 L501.84 246.69 L502.59 246.68 L503.33 246.67 L504.08 246.66 L504.83 246.65 L505.58 246.64 L506.33 246.63 L507.08 246.62 L507.83 246.61 L508.58 246.61 L509.33 246.60 L510.08 246.59 L510.83 246.58 L511.58 246.57 L512.32 246.56 L513.07 246.55 L513.82 246.54 L514.57 246.54 L515.32 246.53 L516.07 246.52 L516.82 246.51 L517.57 246.50 L518.32 246.49 L519.07 246.49 L519.82 246.48 L520.56 246.47 L521.31 246.46 L522.06 246.45 L522.81 246.45 L523.56 246.44 L524.31 246.43 L525.06 246.42 L525.81 246.41 L526.56 246.41 L527.31 246.40 L528.06 246.39 L528.81 246.38 L529.55 246.38 L530.30 246.37 L531.05 246.36 L531.80 246.35 L532.55 246.35 L533.30 246.34 L534.05 246.33 L534.80 246.32 L535.55 246.32 L536.30 246.31 L537.05 246.30 L537.80 246.29 L538.54 246.29 L539.29 246.28 L540.04 246.27 L540.79 246.26 L541.54 246.26 L542.29 246.25 L543.04 246.24 L543.79 246.24 L544.54 246.23 L545.29 246.22 L546.04 246.22 L546.79 246.21 L547.53 246.20 L548.28 246.20 L549.03 246.19 L549.78 246.18 L550.53 246.17 L551.28 246.17 L552.03 246.16 L552.78 246.15 L553.53 246.15 L554.28 246.14 L555.03 246.14 L555.78 246.13 L556.52 246.12 L557.27 246.12 L558.02 246.11 L558.77 246.10 L559.52 246.10 L560.27 246.09 L561.02 246.08 L561.77 246.08 L562.52 246.07 L563.27 246.07 L564.02 246.06 L564.77 246.05 L565.51 246.05 L566.26 246.04 L567.01 246.03 L567.76 246.03 L568.51 246.02 L569.26 246.02 L570.01 246.01 L570.76 246.00 L571.51 246.00 L572.26 245.99 L573.01 245.99 L573.76 245.98 L574.50 245.98 L575.25 245.97 L576.00 245.96 L576.75 245.96 L577.50 245.95 L578.25 245.95 L579.00 245.94 L579.75 245.94 L580.50 245.93 L581.25 245.92 L582.00 245.92 L582.75 245.91 L583.49 245.91 L584.24 245.90 L584.99 245.90 L585.74 245.89 L586.49 245.89 L587.24 245.88 L587.99 245.87 L588.74 245.87 L589.49 245.86 L590.24 245.86 L590.99 245.85 L591.74 245.85 L592.48 245.84 L593.23 245.84 L593.98 245.83 L594.73 245.83 L595.48 245.82 L596.23 245.82 L596.98 245.81 L597.73 245.81 L598.48 245.80 L599.23 245.80 L599.98 245.79 L600.73 245.79 L601.47 245.78 L602.22 245.78 L602.97 245.77 L603.72 245.77 L604.47 245.76 L605.22 245.76 L605.97 245.75 L606.72 245.75 L607.47 245.74 L608.22 245.74 L608.97 245.73 L609.72 245.73 L610.46 245.72 L611.21 245.72 L611.96 245.71 L612.71 245.71 L613.46 245.70 L614.21 245.70 L614.96 245.69 L615.71 245.69 L616.46 245.69 L617.21 245.68 L617.96 245.68 L618.71 245.67 L619.45 245.67 L620.20 245.66 L620.95 245.66 L621.70 245.65 L622.45 245.65 L623.20 245.65 L623.95 245.64 L624.70 245.64 L625.45 245.63 L626.20 245.63 L626.95 245.62 L627.70 245.62 L628.44 245.61 L629.19 245.61 L629.94 245.61 L630.69 245.60 L631.44 245.60 L632.19 245.59 L632.94 245.59 L633.69 245.58 L634.44 245.58 L635.19 245.58 L635.94 245.57 L636.69 245.57 L637.43 245.56 L638.18 245.56 L638.93 245.56 L639.68 245.55 L640.43 245.55 L641.18 245.54 L641.93 245.54 L642.68 245.54 L643.43 245.53 L644.18 245.53 L644.93 245.52 L645.68 245.52 L646.42 245.52 L647.17 245.51 L647.92 245.51 L648.67 245.50 L649.42 245.50 L650.17 245.50 L650.92 245.49 L651.67 245.49 L652.42 245.49 L653.17 245.48 L653.92 245.48 L654.67 245.47 L655.41 245.47 L656.16 245.47 L656.91 245.46" stroke="#ff0000" stroke-width="1.4" stroke-dasharray="2.9 6.345" stroke-dashoffset="1.7"/>
<path d="M150.52 374.76 L150.63 374.65 L150.75 374.54 L150.86 374.43 L150.97 374.31 L151.08 374.19 L151.19 374.07 L151.30 373.95 L151.42 373.83 L151.53 373.71 L151.64 373.59 L151.75 373.46 L151.86 373.34 L151.98 373.21 L152.09 373.08 L152.20 372.95 L152.31 372.82 L152.42 372.69 L152.54 372.56 L152.65 372.43 L152.76 372.29 L152.87 372.16 L152.98 372.02 L153.10 371.89 L153.21 371.75 L153.32 371.61 L153.43 371.47 L153.54 371.33 L153.66 371.19 L153.77 371.05 L153.88 370.91 L153.99 370.76 L154.10 370.62 L154.22 370.48 L154.33 370.33 L154.44 370.19 L154.55 370.04 L154.66 369.89 L154.77 369.74 L154.89 369.60 L155.00 369.45 L155.11 369.30 L155.22 369.15 L155.33 369.00 L155.45 368.85 L155.56 368.70 L155.67 368.55 L155.78 368.39 L155.89 368.24 L156.01 368.09 L156.12 367.93 L156.23 367.78 L156.34 367.63 L156.45 367.47 L156.57 367.32 L156.68 367.16 L156.79 367.01 L156.90 366.85 L157.01 366.69 L157.13 366.54 L157.24 366.38 L157.35 366.22 L157.46 366.06 L157.57 365.91 L157.68 365.75 L157.80 365.59 L157.91 365.43 L158.02 365.27 L158.13 365.11 L158.24 364.96 L158.36 364.80 L158.47 364.64 L158.58 364.48 L158.69 364.32 L158.80 364.16 L158.92 364.00 L159.03 363.84 L159.14 363.68 L159.25 363.52 L159.36 363.36 L159.48 363.19 L159.59 363.03 L159.70 362.87 L159.81 362.71 L159.92 362.55 L160.04 362.39 L160.15 362.23 L160.26 362.07 L160.37 361.91 L160.48 361.74 L160.59 361.58 L160.71 361.42 L160.82 361.26 L160.93 361.10 L161.04 360.94 L161.15 360.77 L161.27 360.61 L161.38 360.45 L161.49 360.29 L161.60 360.13 L161.71 359.97 L161.83 359.81 L161.94 359.64 L162.05 359.48 L162.16 359.32 L162.27 359.16 L162.39 359.00 L162.50 358.84 L162.61 358.68 L162.72 358.51 L162.83 358.35 L162.95 358.19 L163.06 358.03 L163.17 357.87 L163.28 357.71 L163.39 357.55 L163.51 357.39 L163.62 357.23 L163.73 357.07 L163.84 356.91 L163.95 356.75 L164.06 356.59 L164.18 356.43 L164.29 356.27 L164.40 356.11 L164.51 355.95 L164.62 355.79 L164.74 355.63 L164.85 355.47 L164.96 355.31 L165.07 355.15 L165.18 354.99 L165.30 354.83 L165.41 354.67 L165.52 354.51 L165.63 354.36 L165.74 354.20 L165.86 354.04 L165.97 353.88 L166.08 353.72 L166.19 353.57 L166.30 353.41 L166.42 353.25 L166.53 353.09 L166.64 352.94 L166.75 352.78 L166.86 352.62 L166.97 352.47 L167.09 352.31 L167.20 352.15 L167.31 352.00 L167.42 351.84 L167.53 351.69 L167.65 351.53 L167.76 351.38 L167.87 351.22 L167.98 351.07 L168.09 350.91 L168.21 350.76 L168.32 350.60 L168.43 350.45 L168.54 350.29 L168.65 350.14 L168.77 349.99 L168.88 349.83 L168.99 349.68 L169.10 349.53 L169.21 349.38 L169.33 349.22 L169.44 349.07 L169.55 348.92 L169.66 348.77 L169.77 348.62 L169.88 348.46 L170.00 348.31 L170.11 348.16 L170.22 348.01 L170.33 347.86 L170.44 347.71 L170.56 347.56 L170.67 347.41 L170.78 347.26 L170.89 347.11 L171.00 346.96 L171.12 346.81 L171.23 346.66 L171.34 346.52 L171.45 346.37 L171.56 346.22 L171.68 346.07 L171.79 345.92 L171.90 345.78 L172.01 345.63 L172.12 345.48 L172.24 345.33 L172.35 345.19 L172.46 345.04 L172.57 344.90 L172.68 344.75 L172.79 344.60 L172.91 344.46 L173.02 344.31 L173.13 344.17 L173.24 344.02 L173.35 343.88 L173.47 343.73 L173.58 343.59 L173.69 343.45 L173.80 343.30 L173.91 343.16 L174.03 343.02 L174.14 342.87 L174.25 342.73 L174.36 342.59 L174.47 342.45 L174.59 342.30 L174.70 342.16 L174.81 342.02 L174.92 341.88 L175.03 341.74 L175.15 341.60 L175.26 341.46 L175.37 341.32 L175.48 341.18 L175.59 341.04 L175.71 340.90 L175.82 340.76 L175.93 340.62 L176.04 340.48 L176.15 340.34 L176.26 340.20 L176.38 340.07 L176.49 339.93 L176.60 339.79 L176.71 339.65 L176.82 339.51 L176.94 339.38 L177.05 339.24 L177.16 339.10 L177.27 338.97 L177.38 338.83 L177.50 338.70 L177.61 338.56 L177.72 338.43 L177.83 338.29 L177.94 338.16 L178.06 338.02 L178.17 337.89 L178.28 337.75 L178.39 337.62 L178.50 337.48 L178.62 337.35 L178.73 337.22 L178.84 337.09 L178.95 336.95 L179.06 336.82 L179.17 336.69 L179.29 336.56 L179.40 336.42 L179.51 336.29 L179.62 336.16 L179.73 336.03 L179.85 335.90 L179.96 335.77 L180.07 335.64 L180.18 335.51 L180.29 335.38 L180.41 335.25 L180.52 335.12 L180.63 334.99 L180.74 334.86 L180.85 334.73 L180.97 334.60 L181.08 334.47 L181.19 334.35 L181.30 334.22 L181.41 334.09 L181.53 333.96 L181.64 333.84 L181.75 333.71 L181.86 333.58 L181.97 333.46 L182.08 333.33 L182.20 333.20 L182.31 333.08 L182.42 332.95 L182.53 332.83 L182.64 332.70 L182.76 332.58 L182.87 332.45 L182.98 332.33 L183.09 332.20 L183.20 332.08 L183.32 331.96 L183.43 331.83 L183.54 331.71 L183.65 331.59 L183.76 331.46 L183.88 331.34 L183.99 331.22 L184.10 331.10 L184.21 330.98 L184.32 330.85 L184.44 330.73 L184.55 330.61 L184.66 330.49 L184.77 330.37 L184.88 330.25 L185.00 330.13 L185.11 330.01 L185.22 329.89 L185.33 329.77 L185.44 329.65 L185.55 329.53 L185.67 329.41 L185.78 329.29 L185.89 329.17 L186.00 329.05 L186.11 328.94 L186.23 328.82 L186.34 328.70 L186.45 328.58 L186.56 328.47 L186.67 328.35 L186.79 328.23 L186.90 328.12 L187.01 328.00 L187.12 327.88 L187.23 327.77 L187.35 327.65 L187.46 327.54 L187.57 327.42 L187.68 327.30 L187.79 327.19 L187.91 327.08 L188.02 326.96 L188.13 326.85 L188.24 326.73 L188.35 326.62 L188.46 326.50 L188.58 326.39 L188.69 326.28 L188.80 326.16 L188.91 326.05 L189.02 325.94 L189.14 325.83 L189.25 325.71 L189.36 325.60 L189.47 325.49 L189.58 325.38 L189.70 325.27 L189.81 325.16 L189.92 325.05 L190.03 324.93 L190.14 324.82 L190.26 324.71 L190.37 324.60 L190.48 324.49 L190.59 324.38 L190.70 324.27 L190.82 324.16 L190.93 324.06 L191.04 323.95 L191.15 323.84 L191.26 323.73 L191.37 323.62 L191.49 323.51 L191.60 323.40 L191.71 323.30 L191.82 323.19 L191.93 323.08 L192.05 322.97 L192.16 322.87 L192.27 322.76 L192.38 322.65 L192.49 322.55 L192.61 322.44 L192.72 322.34 L192.83 322.23 L192.94 322.12 L193.05 322.02 L193.17 321.91 L193.28 321.81 L193.39 321.70 L193.50 321.60 L193.61 321.49 L193.73 321.39 L193.84 321.29 L193.95 321.18 L194.06 321.08 L194.17 320.98 L194.29 320.87 L194.40 320.77 L194.51 320.67 L194.62 320.56 L194.73 320.46 L194.84 320.36 L194.96 320.26 L195.07 320.15 L195.18 320.05 L195.29 319.95 L195.40 319.85 L195.52 319.75 L195.63 319.65 L195.74 319.55 L195.85 319.45 L195.96 319.35 L196.08 319.24 L196.19 319.14 L196.30 319.04 L196.41 318.94 L196.52 318.85 L196.64 318.75 L196.75 318.65 L196.86 318.55 L196.97 318.45 L197.08 318.35 L197.20 318.25 L197.31 318.15 L197.42 318.05 L197.53 317.96 L197.64 317.86 L197.75 317.76 L197.87 317.66 L197.98 317.57 L198.09 317.47 L198.20 317.37 L198.31 317.28 L198.43 317.18 L198.54 317.08 L198.65 316.99 L198.76 316.89 L198.87 316.80 L198.99 316.70 L199.10 316.60 L199.21 316.51 L199.32 316.41 L199.43 316.32 L199.55 316.22 L199.66 316.13 L199.77 316.03 L199.88 315.94 L199.99 315.85 L200.11 315.75 L200.22 315.66 L200.33 315.56 L200.44 315.47 L200.55 315.38 L200.66 315.28 L200.78 315.19 L200.89 315.10 L201.00 315.01 L201.11 314.91 L201.22 314.82 L201.34 314.73 L201.45 314.64 L201.56 314.55 L201.67 314.45 L201.78 314.36 L201.90 314.27 L202.01 314.18 L202.12 314.09 L202.23 314.00 L202.34 313.91 L202.46 313.82 L202.57 313.73 L202.68 313.64 L202.79 313.55 L202.90 313.46 L203.02 313.37 L203.13 313.28 L203.24 313.19 L203.35 313.10 L203.46 313.01 L203.57 312.92 L203.69 312.83 L203.80 312.74 L203.91 312.66 L204.02 312.57 L204.13 312.48 L204.25 312.39 L204.36 312.30 L204.47 312.22 L204.58 312.13 L204.69 312.04 L204.81 311.95 L204.92 311.87 L205.03 311.78 L205.14 311.69 L205.25 311.61 L205.37 311.52 L205.48 311.43 L205.59 311.35 L205.70 311.26 L205.81 311.18 L205.93 311.09 L206.04 311.01 L206.15 310.92 L206.26 310.83 L206.37 310.75 L206.49 310.67 L206.60 310.58 L206.71 310.50 L206.82 310.41 L206.93 310.33 L207.04 310.24 L207.16 310.16 L207.27 310.08 L207.38 309.99 L207.49 309.91 L207.60 309.82 L207.72 309.74 L207.83 309.66 L207.94 309.58 L208.05 309.49 L208.16 309.41 L208.91 308.86 L209.66 308.32 L210.41 307.78 L211.16 307.25 L211.91 306.73 L212.66 306.21 L213.41 305.70 L214.16 305.19 L214.91 304.69 L215.66 304.19 L216.40 303.71 L217.15 303.22 L217.90 302.74 L218.65 302.27 L219.40 301.80 L220.15 301.34 L220.90 300.88 L221.65 300.43 L222.40 299.99 L223.15 299.54 L223.90 299.11 L224.65 298.67 L225.39 298.25 L226.14 297.82 L226.89 297.41 L227.64 296.99 L228.39 296.58 L229.14 296.18 L229.89 295.78 L230.64 295.38 L231.39 294.99 L232.14 294.61 L232.89 294.22 L233.64 293.84 L234.38 293.47 L235.13 293.10 L235.88 292.73 L236.63 292.37 L237.38 292.01 L238.13 291.65 L238.88 291.30 L239.63 290.95 L240.38 290.61 L241.13 290.27 L241.88 289.93 L242.63 289.60 L243.37 289.26 L244.12 288.94 L244.87 288.61 L245.62 288.29 L246.37 287.98 L247.12 287.66 L247.87 287.35 L248.62 287.04 L249.37 286.74 L250.12 286.44 L250.87 286.14 L251.62 285.84 L252.36 285.55 L253.11 285.26 L253.86 284.98 L254.61 284.69 L255.36 284.41 L256.11 284.13 L256.86 283.86 L257.61 283.58 L258.36 283.31 L259.11 283.05 L259.86 282.78 L260.61 282.52 L261.35 282.26 L262.10 282.00 L262.85 281.75 L263.60 281.50 L264.35 281.25 L265.10 281.00 L265.85 280.75 L266.60 280.51 L267.35 280.27 L268.10 280.03 L268.85 279.80 L269.60 279.56 L270.34 279.33 L271.09 279.10 L271.84 278.87 L272.59 278.65 L273.34 278.42 L274.09 278.20 L274.84 277.98 L275.59 277.77 L276.34 277.55 L277.09 277.34 L277.84 277.13 L278.59 276.92 L279.33 276.71 L280.08 276.51 L280.83 276.30 L281.58 276.10 L282.33 275.90 L283.08 275.70 L283.83 275.51 L284.58 275.31 L285.33 275.12 L286.08 274.93 L286.83 274.74 L287.58 274.55 L288.32 274.36 L289.07 274.18 L289.82 274.00 L290.57 273.82 L291.32 273.64 L292.07 273.46 L292.82 273.28 L293.57 273.11 L294.32 272.93 L295.07 272.76 L295.82 272.59 L296.57 272.42 L297.31 272.25 L298.06 272.09 L298.81 271.92 L299.56 271.76 L300.31 271.60 L301.06 271.44 L301.81 271.28 L302.56 271.12 L303.31 270.96 L304.06 270.81 L304.81 270.65 L305.56 270.50 L306.30 270.35 L307.05 270.20 L307.80 270.05 L308.55 269.90 L309.30 269.76 L310.05 269.61 L310.80 269.47 L311.55 269.32 L312.30 269.18 L313.05 269.04 L313.80 268.90 L314.55 268.76 L315.29 268.63 L316.04 268.49 L316.79 268.36 L317.54 268.22 L318.29 268.09 L319.04 267.96 L319.79 267.83 L320.54 267.70 L321.29 267.57 L322.04 267.44 L322.79 267.31 L323.54 267.19 L324.28 267.06 L325.03 266.94 L325.78 266.82 L326.53 266.69 L327.28 266.57 L328.03 266.45 L328.78 266.33 L329.53 266.22 L330.28 266.10 L331.03 265.98 L331.78 265.87 L332.53 265.75 L333.27 265.64 L334.02 265.53 L334.77 265.42 L335.52 265.30 L336.27 265.19 L337.02 265.08 L337.77 264.98 L338.52 264.87 L339.27 264.76 L340.02 264.66 L340.77 264.55 L341.52 264.45 L342.26 264.34 L343.01 264.24 L343.76 264.14 L344.51 264.03 L345.26 263.93 L346.01 263.83 L346.76 263.73 L347.51 263.64 L348.26 263.54 L349.01 263.44 L349.76 263.35 L350.50 263.25 L351.25 263.15 L352.00 263.06 L352.75 262.97 L353.50 262.87 L354.25 262.78 L355.00 262.69 L355.75 262.60 L356.50 262.51 L357.25 262.42 L358.00 262.33 L358.75 262.24 L359.49 262.15 L360.24 262.07 L360.99 261.98 L361.74 261.89 L362.49 261.81 L363.24 261.72 L363.99 261.64 L364.74 261.56 L365.49 261.47 L366.24 261.39 L366.99 261.31 L367.74 261.23 L368.48 261.15 L369.23 261.07 L369.98 260.99 L370.73 260.91 L371.48 260.83 L372.23 260.75 L372.98 260.67 L373.73 260.60 L374.48 260.52 L375.23 260.44 L375.98 260.37 L376.73 260.29 L377.47 260.22 L378.22 260.15 L378.97 260.07 L379.72 260.00 L380.47 259.93 L381.22 259.86 L381.97 259.78 L382.72 259.71 L383.47 259.64 L384.22 259.57 L384.97 259.50 L385.72 259.43 L386.46 259.36 L387.21 259.30 L387.96 259.23 L388.71 259.16 L389.46 259.09 L390.21 259.03 L390.96 258.96 L391.71 258.90 L392.46 258.83 L393.21 258.77 L393.96 258.70 L394.71 258.64 L395.45 258.57 L396.20 258.51 L396.95 258.45 L397.70 258.39 L398.45 258.32 L399.20 258.26 L399.95 258.20 L400.70 258.14 L401.45 258.08 L402.20 258.02 L402.95 257.96 L403.70 257.90 L404.44 257.84 L405.19 257.78 L405.94 257.73 L406.69 257.67 L407.44 257.61 L408.19 257.55 L408.94 257.50 L409.69 257.44 L410.44 257.38 L411.19 257.33 L411.94 257.27 L412.69 257.22 L413.43 257.16 L414.18 257.11 L414.93 257.06 L415.68 257.00 L416.43 256.95 L417.18 256.90 L417.93 256.84 L418.68 256.79 L419.43 256.74 L420.18 256.69 L420.93 256.64 L421.68 256.58 L422.42 256.53 L423.17 256.48 L423.92 256.43 L424.67 256.38 L425.42 256.33 L426.17 256.28 L426.92 256.23 L427.67 256.19 L428.42 256.14 L429.17 256.09 L429.92 256.04 L430.67 255.99 L431.41 255.95 L432.16 255.90 L432.91 255.85 L433.66 255.81 L434.41 255.76 L435.16 255.71 L435.91 255.67 L436.66 255.62 L437.41 255.58 L438.16 255.53 L438.91 255.49 L439.66 255.44 L440.40 255.40 L441.15 255.35 L441.90 255.31 L442.65 255.27 L443.40 255.22 L444.15 255.18 L444.90 255.14 L445.65 255.10 L446.40 255.05 L447.15 255.01 L447.90 254.97 L448.65 254.93 L449.39 254.89 L450.14 254.85 L450.89 254.81 L451.64 254.77 L452.39 254.73 L453.14 254.68 L453.89 254.65 L454.64 254.61 L455.39 254.57 L456.14 254.53 L456.89 254.49 L457.64 254.45 L458.38 254.41 L459.13 254.37 L459.88 254.33 L460.63 254.30 L461.38 254.26 L462.13 254.22 L462.88 254.18 L463.63 254.15 L464.38 254.11 L465.13 254.07 L465.88 254.04 L466.63 254.00 L467.37 253.96 L468.12 253.93 L468.87 253.89 L469.62 253.86 L470.37 253.82 L471.12 253.78 L471.87 253.75 L472.62 253.71 L473.37 253.68 L474.12 253.65 L474.87 253.61 L475.62 253.58 L476.36 253.54 L477.11 253.51 L477.86 253.48 L478.61 253.44 L479.36 253.41 L480.11 253.38 L480.86 253.34 L481.61 253.31 L482.36 253.28 L483.11 253.25 L483.86 253.21 L484.61 253.18 L485.35 253.15 L486.10 253.12 L486.85 253.09 L487.60 253.05 L488.35 253.02 L489.10 252.99 L489.85 252.96 L490.60 252.93 L491.35 252.90 L492.10 252.87 L492.85 252.84 L493.60 252.81 L494.34 252.78 L495.09 252.75 L495.84 252.72 L496.59 252.69 L497.34 252.66 L498.09 252.63 L498.84 252.60 L499.59 252.57 L500.34 252.54 L501.09 252.52 L501.84 252.49 L502.59 252.46 L503.33 252.43 L504.08 252.40 L504.83 252.37 L505.58 252.35 L506.33 252.32 L507.08 252.29 L507.83 252.26 L508.58 252.24 L509.33 252.21 L510.08 252.18 L510.83 252.16 L511.58 252.13 L512.32 252.10 L513.07 252.08 L513.82 252.05 L514.57 252.02 L515.32 252.00 L516.07 251.97 L516.82 251.95 L517.57 251.92 L518.32 251.89 L519.07 251.87 L519.82 251.84 L520.56 251.82 L521.31 251.79 L522.06 251.77 L522.81 251.74 L523.56 251.72 L524.31 251.69 L525.06 251.67 L525.81 251.64 L526.56 251.62 L527.31 251.60 L528.06 251.57 L528.81 251.55 L529.55 251.52 L530.30 251.50 L531.05 251.48 L531.80 251.45 L532.55 251.43 L533.30 251.41 L534.05 251.38 L534.80 251.36 L535.55 251.34 L536.30 251.31 L537.05 251.29 L537.80 251.27 L538.54 251.25 L539.29 251.22 L540.04 251.20 L540.79 251.18 L541.54 251.16 L542.29 251.14 L543.04 251.11 L543.79 251.09 L544.54 251.07 L545.29 251.05 L546.04 251.03 L546.79 251.01 L547.53 250.98 L548.28 250.96 L549.03 250.94 L549.78 250.92 L550.53 250.90 L551.28 250.88 L552.03 250.86 L552.78 250.84 L553.53 250.82 L554.28 250.80 L555.03 250.78 L555.78 250.76 L556.52 250.74 L557.27 250.72 L558.02 250.70 L558.77 250.68 L559.52 250.66 L560.27 250.64 L561.02 250.62 L561.77 250.60 L562.52 250.58 L563.27 250.56 L564.02 250.54 L564.77 250.52 L565.51 250.50 L566.26 250.48 L567.01 250.46 L567.76 250.44 L568.51 250.42 L569.26 250.40 L570.01 250.39 L570.76 250.37 L571.51 250.35 L572.26 250.33 L573.01 250.31 L573.76 250.29 L574.50 250.28 L575.25 250.26 L576.00 250.24 L576.75 250.22 L577.50 250.20 L578.25 250.19 L579.00 250.17 L579.75 250.15 L580.50 250.13 L581.25 250.12 L582.00 250.10 L582.75 250.08 L583.49 250.06 L584.24 250.05 L584.99 250.03 L585.74 250.01 L586.49 249.99 L587.24 249.98 L587.99 249.96 L588.74 249.94 L589.49 249.93 L590.24 249.91 L590.99 249.89 L591.74 249.88 L592.48 249.86 L593.23 249.84 L593.98 249.83 L594.73 249.81 L595.48 249.80 L596.23 249.78 L596.98 249.76 L597.73 249.75 L598.48 249.73 L599.23 249.72 L599.98 249.70 L600.73 249.68 L601.47 249.67 L602.22 249.65 L602.97 249.64 L603.72 249.62 L604.47 249.61 L605.22 249.59 L605.97 249.58 L606.72 249.56 L607.47 249.55 L608.22 249.53 L608.97 249.52 L609.72 249.50 L610.46 249.49 L611.21 249.47 L611.96 249.46 L612.71 249.44 L613.46 249.43 L614.21 249.41 L614.96 249.40 L615.71 249.38 L616.46 249.37 L617.21 249.35 L617.96 249.34 L618.71 249.33 L619.45 249.31 L620.20 249.30 L620.95 249.28 L621.70 249.27 L622.45 249.26 L623.20 249.24 L623.95 249.23 L624.70 249.21 L625.45 249.20 L626.20 249.19 L626.95 249.17 L627.70 249.16 L628.44 249.15 L629.19 249.13 L629.94 249.12 L630.69 249.11 L631.44 249.09 L632.19 249.08 L632.94 249.07 L633.69 249.05 L634.44 249.04 L635.19 249.03 L635.94 249.01 L636.69 249.00 L637.43 248.99 L638.18 248.97 L638.93 248.96 L639.68 248.95 L640.43 248.94 L641.18 248.92 L641.93 248.91 L642.68 248.90 L643.43 248.89 L644.18 248.87 L644.93 248.86 L645.68 248.85 L646.42 248.84 L647.17 248.82 L647.92 248.81 L648.67 248.80 L649.42 248.79 L650.17 248.78 L650.92 248.76 L651.67 248.75 L652.42 248.74 L653.17 248.73 L653.92 248.72 L654.67 248.70 L655.41 248.69 L656.16 248.68 L656.91 248.67" stroke="#0000ff" stroke-width="3.9"/>
</g>
<g stroke="#000000" stroke-opacity="0.56" stroke-width="1" fill="none">
<rect x="66.90" y="8.80" width="588.60" height="363.70"/>
<path d="M66.90 372.50 V365.50 M90.44 372.50 V368.50 M113.99 372.50 V368.50 M137.53 372.50 V368.50 M161.08 372.50 V368.50 M184.62 372.50 V365.50 M208.16 372.50 V368.50 M231.71 372.50 V368.50 M255.25 372.50 V368.50 M278.80 372.50 V368.50 M302.34 372.50 V365.50 M325.88 372.50 V368.50 M349.43 372.50 V368.50 M372.97 372.50 V368.50 M396.52 372.50 V368.50 M420.06 372.50 V365.50 M443.60 372.50 V368.50 M467.15 372.50 V368.50 M490.69 372.50 V368.50 M514.24 372.50 V368.50 M537.78 372.50 V365.50 M561.32 372.50 V368.50 M584.87 372.50 V368.50 M608.41 372.50 V368.50 M631.96 372.50 V368.50 M655.50 372.50 V365.50"/>
<path d="M66.90 8.80 V15.80 M90.44 8.80 V12.80 M113.99 8.80 V12.80 M137.53 8.80 V12.80 M161.08 8.80 V12.80 M184.62 8.80 V15.80 M208.16 8.80 V12.80 M231.71 8.80 V12.80 M255.25 8.80 V12.80 M278.80 8.80 V12.80 M302.34 8.80 V15.80 M325.88 8.80 V12.80 M349.43 8.80 V12.80 M372.97 8.80 V12.80 M396.52 8.80 V12.80 M420.06 8.80 V15.80 M443.60 8.80 V12.80 M467.15 8.80 V12.80 M490.69 8.80 V12.80 M514.24 8.80 V12.80 M537.78 8.80 V15.80 M561.32 8.80 V12.80 M584.87 8.80 V12.80 M608.41 8.80 V12.80 M631.96 8.80 V12.80 M655.50 8.80 V15.80"/>
<path d="M66.90 372.50 H73.90 M66.90 360.38 H70.90 M66.90 348.25 H70.90 M66.90 336.13 H70.90 M66.90 324.01 H70.90 M66.90 311.88 H73.90 M66.90 299.76 H70.90 M66.90 287.64 H70.90 M66.90 275.51 H70.90 M66.90 263.39 H70.90 M66.90 251.27 H73.90 M66.90 239.14 H70.90 M66.90 227.02 H70.90 M66.90 214.90 H70.90 M66.90 202.77 H70.90 M66.90 190.65 H73.90 M66.90 178.53 H70.90 M66.90 166.40 H70.90 M66.90 154.28 H70.90 M66.90 142.16 H70.90 M66.90 130.03 H73.90 M66.90 117.91 H70.90 M66.90 105.79 H70.90 M66.90 93.66 H70.90 M66.90 81.54 H70.90 M66.90 69.42 H73.90 M66.90 57.29 H70.90 M66.90 45.17 H70.90 M66.90 33.05 H70.90 M66.90 20.92 H70.90 M66.90 8.80 H73.90"/>
<path d="M655.50 372.50 H648.50 M655.50 360.38 H651.50 M655.50 348.25 H651.50 M655.50 336.13 H651.50 M655.50 324.01 H651.50 M655.50 311.88 H648.50 M655.50 299.76 H651.50 M655.50 287.64 H651.50 M655.50 275.51 H651.50 M655.50 263.39 H651.50 M655.50 251.27 H648.50 M655.50 239.14 H651.50 M655.50 227.02 H651.50 M655.50 214.90 H651.50 M655.50 202.77 H651.50 M655.50 190.65 H648.50 M655.50 178.53 H651.50 M655.50 166.40 H651.50 M655.50 154.28 H651.50 M655.50 142.16 H651.50 M655.50 130.03 H648.50 M655.50 117.91 H651.50 M655.50 105.79 H651.50 M655.50 93.66 H651.50 M655.50 81.54 H651.50 M655.50 69.42 H648.50 M655.50 57.29 H651.50 M655.50 45.17 H651.50 M655.50 33.05 H651.50 M655.50 20.92 H651.50 M655.50 8.80 H648.50"/>
</g>
<g font-size="17.5">
<text transform="translate(67.20 394) scale(0.876 1)" text-anchor="middle">0</text>
<text transform="translate(184.92 394) scale(0.876 1)" text-anchor="middle">5</text>
<text transform="translate(302.64 394) scale(0.876 1)" text-anchor="middle">10</text>
<text transform="translate(420.36 394) scale(0.876 1)" text-anchor="middle">15</text>
<text transform="translate(538.08 394) scale(0.876 1)" text-anchor="middle">20</text>
<text transform="translate(655.80 394) scale(0.876 1)" text-anchor="middle">25</text>
<text transform="translate(59.3 379.65) scale(0.876 1)" text-anchor="end">0.<tspan dx="1.3">0</tspan><tspan dx="-1.3">0</tspan></text>
<text transform="translate(59.3 319.03) scale(0.876 1)" text-anchor="end">0.05</text>
<text transform="translate(59.3 258.42) scale(0.876 1)" text-anchor="end">0.10</text>
<text transform="translate(59.3 197.80) scale(0.876 1)" text-anchor="end">0.15</text>
<text transform="translate(59.3 137.18) scale(0.876 1)" text-anchor="end">0.20</text>
<text transform="translate(59.3 76.57) scale(0.876 1)" text-anchor="end">0.25</text>
<text transform="translate(59.3 15.95) scale(0.876 1)" text-anchor="end">0.30</text>
</g>
<text transform="translate(361.1 424) scale(1.08 1)" font-size="16" font-style="italic" text-anchor="middle">r</text>
<text transform="translate(15.9 190.6) rotate(-90) scale(0.876 1)" font-size="18" text-anchor="middle">Λ</text>
</svg></body></html>
